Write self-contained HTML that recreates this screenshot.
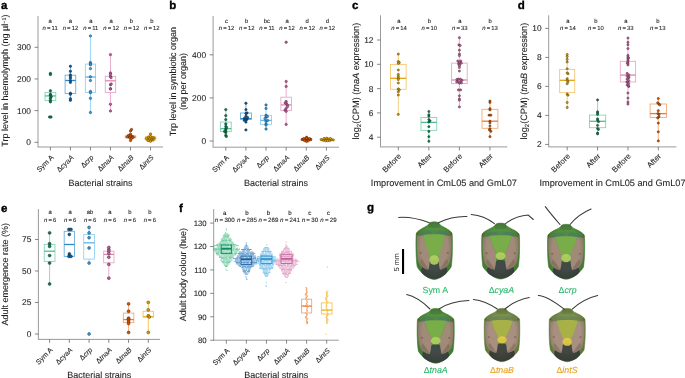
<!DOCTYPE html><html><head><meta charset="utf-8"><style>html,body{margin:0;padding:0;background:#fff;width:685px;height:378px;overflow:hidden;}svg{display:block;}</style></head><body><svg width="685" height="378" viewBox="0 0 685 378" style="will-change:transform" text-rendering="geometricPrecision" font-family='"Liberation Sans", sans-serif'>
<rect width="685" height="378" fill="#fff"/>
<text x="0.90" y="9.40" font-size="11.5" text-anchor="start" font-weight="bold" fill="#000" stroke="#000" stroke-width="0.35">a</text>
<text x="169.20" y="9.20" font-size="11.5" text-anchor="start" font-weight="bold" fill="#000" stroke="#000" stroke-width="0.35">b</text>
<text x="351.90" y="9.30" font-size="11.5" text-anchor="start" font-weight="bold" fill="#000" stroke="#000" stroke-width="0.35">c</text>
<text x="517.80" y="9.30" font-size="11.5" text-anchor="start" font-weight="bold" fill="#000" stroke="#000" stroke-width="0.35">d</text>
<text x="0.90" y="212.40" font-size="11.5" text-anchor="start" font-weight="bold" fill="#000" stroke="#000" stroke-width="0.35">e</text>
<text x="179.10" y="211.70" font-size="11.5" text-anchor="start" font-weight="bold" fill="#000" stroke="#000" stroke-width="0.35">f</text>
<text x="367.00" y="210.80" font-size="11.5" text-anchor="start" font-weight="bold" fill="#000" stroke="#000" stroke-width="0.35">g</text>
<line x1="38.0" y1="16" x2="38.0" y2="147.0" stroke="#9a9a9a" stroke-width="1"/>
<line x1="37.5" y1="147.0" x2="163" y2="147.0" stroke="#9a9a9a" stroke-width="1"/>
<line x1="34.5" y1="142.3" x2="38.0" y2="142.3" stroke="#555" stroke-width="0.7"/>
<text x="31.00" y="145.20" font-size="8.4" text-anchor="end" font-weight="normal" fill="#231f20" stroke="#231f20" stroke-width="0.1">0</text>
<line x1="34.5" y1="110.63000000000001" x2="38.0" y2="110.63000000000001" stroke="#555" stroke-width="0.7"/>
<text x="31.00" y="113.53" font-size="8.4" text-anchor="end" font-weight="normal" fill="#231f20" stroke="#231f20" stroke-width="0.1">100</text>
<line x1="34.5" y1="78.96000000000001" x2="38.0" y2="78.96000000000001" stroke="#555" stroke-width="0.7"/>
<text x="31.00" y="81.86" font-size="8.4" text-anchor="end" font-weight="normal" fill="#231f20" stroke="#231f20" stroke-width="0.1">200</text>
<line x1="34.5" y1="47.29000000000002" x2="38.0" y2="47.29000000000002" stroke="#555" stroke-width="0.7"/>
<text x="31.00" y="50.19" font-size="8.4" text-anchor="end" font-weight="normal" fill="#231f20" stroke="#231f20" stroke-width="0.1">300</text>
<line x1="50.4" y1="147.0" x2="50.4" y2="150.5" stroke="#555" stroke-width="0.7"/>
<line x1="70.42" y1="147.0" x2="70.42" y2="150.5" stroke="#555" stroke-width="0.7"/>
<line x1="90.44" y1="147.0" x2="90.44" y2="150.5" stroke="#555" stroke-width="0.7"/>
<line x1="110.46000000000001" y1="147.0" x2="110.46000000000001" y2="150.5" stroke="#555" stroke-width="0.7"/>
<line x1="130.48" y1="147.0" x2="130.48" y2="150.5" stroke="#555" stroke-width="0.7"/>
<line x1="150.5" y1="147.0" x2="150.5" y2="150.5" stroke="#555" stroke-width="0.7"/>
<text transform="translate(54.00,158.00) rotate(-45)" font-size="7.1" text-anchor="end" fill="#231f20" stroke="#231f20" stroke-width="0.1">Sym A</text>
<text transform="translate(74.02,158.00) rotate(-45)" font-size="7.1" text-anchor="end" fill="#231f20" stroke="#231f20" stroke-width="0.1">&#916;<tspan font-style="italic">cyaA</tspan></text>
<text transform="translate(94.04,158.00) rotate(-45)" font-size="7.1" text-anchor="end" fill="#231f20" stroke="#231f20" stroke-width="0.1">&#916;<tspan font-style="italic">crp</tspan></text>
<text transform="translate(114.06,158.00) rotate(-45)" font-size="7.1" text-anchor="end" fill="#231f20" stroke="#231f20" stroke-width="0.1">&#916;<tspan font-style="italic">tnaA</tspan></text>
<text transform="translate(134.08,158.00) rotate(-45)" font-size="7.1" text-anchor="end" fill="#231f20" stroke="#231f20" stroke-width="0.1">&#916;<tspan font-style="italic">tnaB</tspan></text>
<text transform="translate(154.10,158.00) rotate(-45)" font-size="7.1" text-anchor="end" fill="#231f20" stroke="#231f20" stroke-width="0.1">&#916;<tspan font-style="italic">intS</tspan></text>
<text x="100.50" y="186.20" font-size="9.0" text-anchor="middle" font-weight="normal" fill="#231f20" stroke="#231f20" stroke-width="0.1">Bacterial strains</text>
<text transform="translate(8.30,80.60) rotate(-90)" font-size="9.0" text-anchor="middle" fill="#231f20" stroke="#231f20" stroke-width="0.1">Trp level in haemolymph (ng &#181;l<tspan dy="-2.5" font-size="5.5">&#8722;1</tspan><tspan dy="2.5">)</tspan></text>
<text x="50.10" y="22.80" font-size="5.9" text-anchor="middle" font-weight="normal" fill="#231f20" stroke="#231f20" stroke-width="0.1">a</text>
<text x="50.10" y="30.00" font-size="5.9" text-anchor="middle" font-weight="normal" fill="#231f20" stroke="#231f20" stroke-width="0.1"><tspan font-style="italic">n</tspan>&#8201;=&#8201;11</text>
<text x="70.45" y="22.80" font-size="5.9" text-anchor="middle" font-weight="normal" fill="#231f20" stroke="#231f20" stroke-width="0.1">a</text>
<text x="70.45" y="30.00" font-size="5.9" text-anchor="middle" font-weight="normal" fill="#231f20" stroke="#231f20" stroke-width="0.1"><tspan font-style="italic">n</tspan>&#8201;=&#8201;12</text>
<text x="90.80" y="22.80" font-size="5.9" text-anchor="middle" font-weight="normal" fill="#231f20" stroke="#231f20" stroke-width="0.1">a</text>
<text x="90.80" y="30.00" font-size="5.9" text-anchor="middle" font-weight="normal" fill="#231f20" stroke="#231f20" stroke-width="0.1"><tspan font-style="italic">n</tspan>&#8201;=&#8201;11</text>
<text x="111.15" y="22.80" font-size="5.9" text-anchor="middle" font-weight="normal" fill="#231f20" stroke="#231f20" stroke-width="0.1">a</text>
<text x="111.15" y="30.00" font-size="5.9" text-anchor="middle" font-weight="normal" fill="#231f20" stroke="#231f20" stroke-width="0.1"><tspan font-style="italic">n</tspan>&#8201;=&#8201;12</text>
<text x="131.50" y="22.80" font-size="5.9" text-anchor="middle" font-weight="normal" fill="#231f20" stroke="#231f20" stroke-width="0.1">b</text>
<text x="131.50" y="30.00" font-size="5.9" text-anchor="middle" font-weight="normal" fill="#231f20" stroke="#231f20" stroke-width="0.1"><tspan font-style="italic">n</tspan>&#8201;=&#8201;12</text>
<text x="151.85" y="22.80" font-size="5.9" text-anchor="middle" font-weight="normal" fill="#231f20" stroke="#231f20" stroke-width="0.1">b</text>
<text x="151.85" y="30.00" font-size="5.9" text-anchor="middle" font-weight="normal" fill="#231f20" stroke="#231f20" stroke-width="0.1"><tspan font-style="italic">n</tspan>&#8201;=&#8201;12</text>
<line x1="50.4" y1="90.8" x2="50.4" y2="92.4" stroke="#86d5b4" stroke-width="0.9"/>
<line x1="50.4" y1="100.6" x2="50.4" y2="101.9" stroke="#86d5b4" stroke-width="0.9"/>
<rect x="45.00" y="92.4" width="10.8" height="8.20" fill="none" stroke="#86d5b4" stroke-width="0.9"/>
<line x1="45.00" y1="95.9" x2="55.80" y2="95.9" stroke="#4fbf8f" stroke-width="1.3"/>
<line x1="70.42" y1="66.2" x2="70.42" y2="75.2" stroke="#6aaedf" stroke-width="0.9"/>
<line x1="70.42" y1="93.5" x2="70.42" y2="100.3" stroke="#6aaedf" stroke-width="0.9"/>
<rect x="65.12" y="75.2" width="10.6" height="18.30" fill="none" stroke="#6aaedf" stroke-width="0.9"/>
<line x1="65.12" y1="80.5" x2="75.72" y2="80.5" stroke="#2f86c8" stroke-width="1.3"/>
<line x1="90.44" y1="35.9" x2="90.44" y2="64.1" stroke="#94d0f2" stroke-width="0.9"/>
<line x1="90.44" y1="92.4" x2="90.44" y2="112.5" stroke="#94d0f2" stroke-width="0.9"/>
<rect x="85.34" y="64.1" width="10.2" height="28.30" fill="none" stroke="#94d0f2" stroke-width="0.9"/>
<line x1="85.34" y1="77.0" x2="95.54" y2="77.0" stroke="#5cb4e8" stroke-width="1.3"/>
<line x1="110.46000000000001" y1="54.6" x2="110.46000000000001" y2="76.3" stroke="#e8a6cb" stroke-width="0.9"/>
<line x1="110.46000000000001" y1="92.4" x2="110.46000000000001" y2="111.0" stroke="#e8a6cb" stroke-width="0.9"/>
<rect x="105.26" y="76.3" width="10.4" height="16.10" fill="none" stroke="#e8a6cb" stroke-width="0.9"/>
<line x1="105.26" y1="80.8" x2="115.66" y2="80.8" stroke="#dd86b6" stroke-width="1.3"/>
<line x1="130.48" y1="134.0" x2="130.48" y2="135.8" stroke="#f4a878" stroke-width="0.9"/>
<line x1="130.48" y1="137.9" x2="130.48" y2="140.0" stroke="#f4a878" stroke-width="0.9"/>
<rect x="125.18" y="135.8" width="10.6" height="2.10" fill="none" stroke="#f4a878" stroke-width="0.9"/>
<line x1="125.18" y1="137.0" x2="135.78" y2="137.0" stroke="#ea7a30" stroke-width="1.3"/>
<line x1="150.5" y1="136.0" x2="150.5" y2="136.8" stroke="#f4c454" stroke-width="0.9"/>
<line x1="150.5" y1="140.0" x2="150.5" y2="141.0" stroke="#f4c454" stroke-width="0.9"/>
<rect x="145.20" y="136.8" width="10.6" height="3.20" fill="none" stroke="#f4c454" stroke-width="0.9"/>
<line x1="145.20" y1="138.6" x2="155.80" y2="138.6" stroke="#eeb020" stroke-width="1.3"/>
<circle cx="50.40" cy="73.40" r="1.2" fill="#0b7a4e" stroke="#0a3424" stroke-width="0.5"/>
<circle cx="50.40" cy="74.60" r="1.2" fill="#0b7a4e" stroke="#0a3424" stroke-width="0.5"/>
<circle cx="50.40" cy="90.80" r="1.2" fill="#0b7a4e" stroke="#0a3424" stroke-width="0.5"/>
<circle cx="50.40" cy="94.30" r="1.2" fill="#0b7a4e" stroke="#0a3424" stroke-width="0.5"/>
<circle cx="50.40" cy="95.40" r="1.2" fill="#0b7a4e" stroke="#0a3424" stroke-width="0.5"/>
<circle cx="51.20" cy="96.70" r="1.2" fill="#0b7a4e" stroke="#0a3424" stroke-width="0.5"/>
<circle cx="50.40" cy="98.30" r="1.2" fill="#0b7a4e" stroke="#0a3424" stroke-width="0.5"/>
<circle cx="50.40" cy="100.30" r="1.2" fill="#0b7a4e" stroke="#0a3424" stroke-width="0.5"/>
<circle cx="50.40" cy="101.90" r="1.2" fill="#0b7a4e" stroke="#0a3424" stroke-width="0.5"/>
<circle cx="49.60" cy="117.00" r="1.2" fill="#0b7a4e" stroke="#0a3424" stroke-width="0.5"/>
<circle cx="51.00" cy="117.00" r="1.2" fill="#0b7a4e" stroke="#0a3424" stroke-width="0.5"/>
<circle cx="70.42" cy="66.20" r="1.2" fill="#105b92" stroke="#0a2a45" stroke-width="0.5"/>
<circle cx="70.42" cy="71.30" r="1.2" fill="#105b92" stroke="#0a2a45" stroke-width="0.5"/>
<circle cx="70.42" cy="74.90" r="1.2" fill="#105b92" stroke="#0a2a45" stroke-width="0.5"/>
<circle cx="70.42" cy="76.80" r="1.2" fill="#105b92" stroke="#0a2a45" stroke-width="0.5"/>
<circle cx="70.42" cy="78.40" r="1.2" fill="#105b92" stroke="#0a2a45" stroke-width="0.5"/>
<circle cx="70.42" cy="80.80" r="1.2" fill="#105b92" stroke="#0a2a45" stroke-width="0.5"/>
<circle cx="70.42" cy="82.40" r="1.2" fill="#105b92" stroke="#0a2a45" stroke-width="0.5"/>
<circle cx="70.42" cy="93.20" r="1.2" fill="#105b92" stroke="#0a2a45" stroke-width="0.5"/>
<circle cx="70.42" cy="94.30" r="1.2" fill="#105b92" stroke="#0a2a45" stroke-width="0.5"/>
<circle cx="70.42" cy="98.70" r="1.2" fill="#105b92" stroke="#0a2a45" stroke-width="0.5"/>
<circle cx="70.42" cy="100.30" r="1.2" fill="#105b92" stroke="#0a2a45" stroke-width="0.5"/>
<circle cx="90.44" cy="35.90" r="1.2" fill="#3a9ad8" stroke="#17425f" stroke-width="0.5"/>
<circle cx="90.44" cy="62.50" r="1.2" fill="#3a9ad8" stroke="#17425f" stroke-width="0.5"/>
<circle cx="90.44" cy="63.70" r="1.2" fill="#3a9ad8" stroke="#17425f" stroke-width="0.5"/>
<circle cx="90.44" cy="64.90" r="1.2" fill="#3a9ad8" stroke="#17425f" stroke-width="0.5"/>
<circle cx="90.44" cy="68.60" r="1.2" fill="#3a9ad8" stroke="#17425f" stroke-width="0.5"/>
<circle cx="90.44" cy="76.80" r="1.2" fill="#3a9ad8" stroke="#17425f" stroke-width="0.5"/>
<circle cx="90.44" cy="80.50" r="1.2" fill="#3a9ad8" stroke="#17425f" stroke-width="0.5"/>
<circle cx="90.44" cy="91.40" r="1.2" fill="#3a9ad8" stroke="#17425f" stroke-width="0.5"/>
<circle cx="90.44" cy="92.70" r="1.2" fill="#3a9ad8" stroke="#17425f" stroke-width="0.5"/>
<circle cx="90.44" cy="98.30" r="1.2" fill="#3a9ad8" stroke="#17425f" stroke-width="0.5"/>
<circle cx="90.44" cy="112.50" r="1.2" fill="#3a9ad8" stroke="#17425f" stroke-width="0.5"/>
<circle cx="110.46" cy="54.60" r="1.2" fill="#b8649a" stroke="#58203f" stroke-width="0.5"/>
<circle cx="110.46" cy="72.90" r="1.2" fill="#b8649a" stroke="#58203f" stroke-width="0.5"/>
<circle cx="110.46" cy="74.40" r="1.2" fill="#b8649a" stroke="#58203f" stroke-width="0.5"/>
<circle cx="110.46" cy="76.50" r="1.2" fill="#b8649a" stroke="#58203f" stroke-width="0.5"/>
<circle cx="111.00" cy="77.60" r="1.2" fill="#b8649a" stroke="#58203f" stroke-width="0.5"/>
<circle cx="110.46" cy="84.80" r="1.2" fill="#b8649a" stroke="#58203f" stroke-width="0.5"/>
<circle cx="111.20" cy="84.00" r="1.2" fill="#b8649a" stroke="#58203f" stroke-width="0.5"/>
<circle cx="110.46" cy="88.70" r="1.2" fill="#b8649a" stroke="#58203f" stroke-width="0.5"/>
<circle cx="110.46" cy="89.00" r="1.2" fill="#b8649a" stroke="#58203f" stroke-width="0.5"/>
<circle cx="110.46" cy="104.30" r="1.2" fill="#b8649a" stroke="#58203f" stroke-width="0.5"/>
<circle cx="110.46" cy="111.00" r="1.2" fill="#b8649a" stroke="#58203f" stroke-width="0.5"/>
<circle cx="131.50" cy="129.50" r="1.2" fill="#d05a00" stroke="#4a1a00" stroke-width="0.5"/>
<circle cx="130.50" cy="131.00" r="1.2" fill="#d05a00" stroke="#4a1a00" stroke-width="0.5"/>
<circle cx="128.50" cy="135.50" r="1.2" fill="#d05a00" stroke="#4a1a00" stroke-width="0.5"/>
<circle cx="130.50" cy="134.20" r="1.2" fill="#d05a00" stroke="#4a1a00" stroke-width="0.5"/>
<circle cx="132.50" cy="136.50" r="1.2" fill="#d05a00" stroke="#4a1a00" stroke-width="0.5"/>
<circle cx="129.50" cy="137.50" r="1.2" fill="#d05a00" stroke="#4a1a00" stroke-width="0.5"/>
<circle cx="131.50" cy="138.50" r="1.2" fill="#d05a00" stroke="#4a1a00" stroke-width="0.5"/>
<circle cx="130.50" cy="140.50" r="1.2" fill="#d05a00" stroke="#4a1a00" stroke-width="0.5"/>
<circle cx="127.50" cy="136.80" r="1.2" fill="#d05a00" stroke="#4a1a00" stroke-width="0.5"/>
<circle cx="133.00" cy="137.20" r="1.2" fill="#d05a00" stroke="#4a1a00" stroke-width="0.5"/>
<circle cx="130.60" cy="136.00" r="1.2" fill="#d05a00" stroke="#4a1a00" stroke-width="0.5"/>
<circle cx="150.50" cy="134.00" r="1.2" fill="#e0a000" stroke="#4f3a00" stroke-width="0.5"/>
<circle cx="148.50" cy="137.00" r="1.2" fill="#e0a000" stroke="#4f3a00" stroke-width="0.5"/>
<circle cx="150.50" cy="136.50" r="1.2" fill="#e0a000" stroke="#4f3a00" stroke-width="0.5"/>
<circle cx="152.50" cy="137.50" r="1.2" fill="#e0a000" stroke="#4f3a00" stroke-width="0.5"/>
<circle cx="149.50" cy="139.00" r="1.2" fill="#e0a000" stroke="#4f3a00" stroke-width="0.5"/>
<circle cx="151.50" cy="139.50" r="1.2" fill="#e0a000" stroke="#4f3a00" stroke-width="0.5"/>
<circle cx="148.00" cy="140.50" r="1.2" fill="#e0a000" stroke="#4f3a00" stroke-width="0.5"/>
<circle cx="150.50" cy="141.20" r="1.2" fill="#e0a000" stroke="#4f3a00" stroke-width="0.5"/>
<circle cx="153.00" cy="140.00" r="1.2" fill="#e0a000" stroke="#4f3a00" stroke-width="0.5"/>
<circle cx="146.50" cy="138.50" r="1.2" fill="#e0a000" stroke="#4f3a00" stroke-width="0.5"/>
<circle cx="154.00" cy="138.00" r="1.2" fill="#e0a000" stroke="#4f3a00" stroke-width="0.5"/>
<line x1="213.1" y1="16" x2="213.1" y2="147.2" stroke="#9a9a9a" stroke-width="1"/>
<line x1="212.6" y1="147.2" x2="339" y2="147.2" stroke="#9a9a9a" stroke-width="1"/>
<line x1="209.6" y1="141.0" x2="213.1" y2="141.0" stroke="#555" stroke-width="0.7"/>
<text x="206.10" y="143.90" font-size="8.4" text-anchor="end" font-weight="normal" fill="#231f20" stroke="#231f20" stroke-width="0.1">0</text>
<line x1="209.6" y1="97.9" x2="213.1" y2="97.9" stroke="#555" stroke-width="0.7"/>
<text x="206.10" y="100.80" font-size="8.4" text-anchor="end" font-weight="normal" fill="#231f20" stroke="#231f20" stroke-width="0.1">200</text>
<line x1="209.6" y1="54.8" x2="213.1" y2="54.8" stroke="#555" stroke-width="0.7"/>
<text x="206.10" y="57.70" font-size="8.4" text-anchor="end" font-weight="normal" fill="#231f20" stroke="#231f20" stroke-width="0.1">400</text>
<line x1="225.8" y1="147.2" x2="225.8" y2="150.7" stroke="#555" stroke-width="0.7"/>
<line x1="245.92000000000002" y1="147.2" x2="245.92000000000002" y2="150.7" stroke="#555" stroke-width="0.7"/>
<line x1="266.04" y1="147.2" x2="266.04" y2="150.7" stroke="#555" stroke-width="0.7"/>
<line x1="286.16" y1="147.2" x2="286.16" y2="150.7" stroke="#555" stroke-width="0.7"/>
<line x1="306.28000000000003" y1="147.2" x2="306.28000000000003" y2="150.7" stroke="#555" stroke-width="0.7"/>
<line x1="326.40000000000003" y1="147.2" x2="326.40000000000003" y2="150.7" stroke="#555" stroke-width="0.7"/>
<text transform="translate(229.40,158.20) rotate(-45)" font-size="7.1" text-anchor="end" fill="#231f20" stroke="#231f20" stroke-width="0.1">Sym A</text>
<text transform="translate(249.52,158.20) rotate(-45)" font-size="7.1" text-anchor="end" fill="#231f20" stroke="#231f20" stroke-width="0.1">&#916;<tspan font-style="italic">cyaA</tspan></text>
<text transform="translate(269.64,158.20) rotate(-45)" font-size="7.1" text-anchor="end" fill="#231f20" stroke="#231f20" stroke-width="0.1">&#916;<tspan font-style="italic">crp</tspan></text>
<text transform="translate(289.76,158.20) rotate(-45)" font-size="7.1" text-anchor="end" fill="#231f20" stroke="#231f20" stroke-width="0.1">&#916;<tspan font-style="italic">tnaA</tspan></text>
<text transform="translate(309.88,158.20) rotate(-45)" font-size="7.1" text-anchor="end" fill="#231f20" stroke="#231f20" stroke-width="0.1">&#916;<tspan font-style="italic">tnaB</tspan></text>
<text transform="translate(330.00,158.20) rotate(-45)" font-size="7.1" text-anchor="end" fill="#231f20" stroke="#231f20" stroke-width="0.1">&#916;<tspan font-style="italic">intS</tspan></text>
<text x="276.05" y="186.20" font-size="9.0" text-anchor="middle" font-weight="normal" fill="#231f20" stroke="#231f20" stroke-width="0.1">Bacterial strains</text>
<text transform="translate(176.30,81.60) rotate(-90)" font-size="9.0" text-anchor="middle" fill="#231f20" stroke="#231f20" stroke-width="0.1">Trp level in symbiotic organ</text>
<text transform="translate(185.90,81.60) rotate(-90)" font-size="9.0" text-anchor="middle" fill="#231f20" stroke="#231f20" stroke-width="0.1">(ng per organ)</text>
<text x="226.60" y="22.90" font-size="5.9" text-anchor="middle" font-weight="normal" fill="#231f20" stroke="#231f20" stroke-width="0.1">c</text>
<text x="226.60" y="30.30" font-size="5.9" text-anchor="middle" font-weight="normal" fill="#231f20" stroke="#231f20" stroke-width="0.1"><tspan font-style="italic">n</tspan>&#8201;=&#8201;12</text>
<text x="246.75" y="22.90" font-size="5.9" text-anchor="middle" font-weight="normal" fill="#231f20" stroke="#231f20" stroke-width="0.1">b</text>
<text x="246.75" y="30.30" font-size="5.9" text-anchor="middle" font-weight="normal" fill="#231f20" stroke="#231f20" stroke-width="0.1"><tspan font-style="italic">n</tspan>&#8201;=&#8201;12</text>
<text x="266.90" y="22.90" font-size="5.9" text-anchor="middle" font-weight="normal" fill="#231f20" stroke="#231f20" stroke-width="0.1">bc</text>
<text x="266.90" y="30.30" font-size="5.9" text-anchor="middle" font-weight="normal" fill="#231f20" stroke="#231f20" stroke-width="0.1"><tspan font-style="italic">n</tspan>&#8201;=&#8201;11</text>
<text x="287.05" y="22.90" font-size="5.9" text-anchor="middle" font-weight="normal" fill="#231f20" stroke="#231f20" stroke-width="0.1">a</text>
<text x="287.05" y="30.30" font-size="5.9" text-anchor="middle" font-weight="normal" fill="#231f20" stroke="#231f20" stroke-width="0.1"><tspan font-style="italic">n</tspan>&#8201;=&#8201;12</text>
<text x="307.20" y="22.90" font-size="5.9" text-anchor="middle" font-weight="normal" fill="#231f20" stroke="#231f20" stroke-width="0.1">d</text>
<text x="307.20" y="30.30" font-size="5.9" text-anchor="middle" font-weight="normal" fill="#231f20" stroke="#231f20" stroke-width="0.1"><tspan font-style="italic">n</tspan>&#8201;=&#8201;12</text>
<text x="327.35" y="22.90" font-size="5.9" text-anchor="middle" font-weight="normal" fill="#231f20" stroke="#231f20" stroke-width="0.1">d</text>
<text x="327.35" y="30.30" font-size="5.9" text-anchor="middle" font-weight="normal" fill="#231f20" stroke="#231f20" stroke-width="0.1"><tspan font-style="italic">n</tspan>&#8201;=&#8201;12</text>
<line x1="225.8" y1="109.6" x2="225.8" y2="122.1" stroke="#86d5b4" stroke-width="0.9"/>
<line x1="225.8" y1="131.6" x2="225.8" y2="136.4" stroke="#86d5b4" stroke-width="0.9"/>
<rect x="220.35" y="122.1" width="10.9" height="9.50" fill="none" stroke="#86d5b4" stroke-width="0.9"/>
<line x1="220.35" y1="128.7" x2="231.25" y2="128.7" stroke="#4fbf8f" stroke-width="1.3"/>
<line x1="245.92000000000002" y1="103.2" x2="245.92000000000002" y2="113.0" stroke="#6aaedf" stroke-width="0.9"/>
<line x1="245.92000000000002" y1="119.2" x2="245.92000000000002" y2="122.1" stroke="#6aaedf" stroke-width="0.9"/>
<rect x="240.42" y="113.0" width="11.0" height="6.20" fill="none" stroke="#6aaedf" stroke-width="0.9"/>
<line x1="240.42" y1="118.7" x2="251.42" y2="118.7" stroke="#2f86c8" stroke-width="1.3"/>
<line x1="266.04" y1="104.9" x2="266.04" y2="115.3" stroke="#94d0f2" stroke-width="0.9"/>
<line x1="266.04" y1="124.4" x2="266.04" y2="129.0" stroke="#94d0f2" stroke-width="0.9"/>
<rect x="260.54" y="115.3" width="11.0" height="9.10" fill="none" stroke="#94d0f2" stroke-width="0.9"/>
<line x1="260.54" y1="120.4" x2="271.54" y2="120.4" stroke="#5cb4e8" stroke-width="1.3"/>
<line x1="286.16" y1="81.4" x2="286.16" y2="97.2" stroke="#e8a6cb" stroke-width="0.9"/>
<line x1="286.16" y1="110.6" x2="286.16" y2="124.4" stroke="#e8a6cb" stroke-width="0.9"/>
<rect x="280.91" y="97.2" width="10.5" height="13.40" fill="none" stroke="#e8a6cb" stroke-width="0.9"/>
<line x1="280.91" y1="104.9" x2="291.41" y2="104.9" stroke="#dd86b6" stroke-width="1.3"/>
<line x1="306.28000000000003" y1="137.5" x2="306.28000000000003" y2="139.0" stroke="#f4a878" stroke-width="0.9"/>
<line x1="306.28000000000003" y1="140.3" x2="306.28000000000003" y2="141.5" stroke="#f4a878" stroke-width="0.9"/>
<rect x="301.28" y="139.0" width="10.0" height="1.30" fill="none" stroke="#f4a878" stroke-width="0.9"/>
<line x1="301.28" y1="139.6" x2="311.28" y2="139.6" stroke="#ea7a30" stroke-width="1.3"/>
<line x1="326.40000000000003" y1="138.5" x2="326.40000000000003" y2="139.2" stroke="#f4c454" stroke-width="0.9"/>
<line x1="326.40000000000003" y1="140.5" x2="326.40000000000003" y2="141.5" stroke="#f4c454" stroke-width="0.9"/>
<rect x="321.40" y="139.2" width="10.0" height="1.30" fill="none" stroke="#f4c454" stroke-width="0.9"/>
<line x1="321.40" y1="139.8" x2="331.40" y2="139.8" stroke="#eeb020" stroke-width="1.3"/>
<circle cx="225.80" cy="109.60" r="1.2" fill="#0b7a4e" stroke="#0a3424" stroke-width="0.5"/>
<circle cx="225.80" cy="115.60" r="1.2" fill="#0b7a4e" stroke="#0a3424" stroke-width="0.5"/>
<circle cx="225.80" cy="119.60" r="1.2" fill="#0b7a4e" stroke="#0a3424" stroke-width="0.5"/>
<circle cx="225.80" cy="123.90" r="1.2" fill="#0b7a4e" stroke="#0a3424" stroke-width="0.5"/>
<circle cx="225.80" cy="126.40" r="1.2" fill="#0b7a4e" stroke="#0a3424" stroke-width="0.5"/>
<circle cx="225.80" cy="129.00" r="1.2" fill="#0b7a4e" stroke="#0a3424" stroke-width="0.5"/>
<circle cx="225.80" cy="130.70" r="1.2" fill="#0b7a4e" stroke="#0a3424" stroke-width="0.5"/>
<circle cx="225.80" cy="132.50" r="1.2" fill="#0b7a4e" stroke="#0a3424" stroke-width="0.5"/>
<circle cx="225.80" cy="135.40" r="1.2" fill="#0b7a4e" stroke="#0a3424" stroke-width="0.5"/>
<circle cx="226.30" cy="136.40" r="1.2" fill="#0b7a4e" stroke="#0a3424" stroke-width="0.5"/>
<circle cx="224.60" cy="131.50" r="1.2" fill="#0b7a4e" stroke="#0a3424" stroke-width="0.5"/>
<circle cx="226.50" cy="127.50" r="1.2" fill="#0b7a4e" stroke="#0a3424" stroke-width="0.5"/>
<circle cx="245.92" cy="103.20" r="1.2" fill="#105b92" stroke="#0a2a45" stroke-width="0.5"/>
<circle cx="245.92" cy="109.60" r="1.2" fill="#105b92" stroke="#0a2a45" stroke-width="0.5"/>
<circle cx="245.92" cy="113.50" r="1.2" fill="#105b92" stroke="#0a2a45" stroke-width="0.5"/>
<circle cx="245.92" cy="116.10" r="1.2" fill="#105b92" stroke="#0a2a45" stroke-width="0.5"/>
<circle cx="244.50" cy="118.20" r="1.2" fill="#105b92" stroke="#0a2a45" stroke-width="0.5"/>
<circle cx="246.90" cy="119.20" r="1.2" fill="#105b92" stroke="#0a2a45" stroke-width="0.5"/>
<circle cx="245.92" cy="119.90" r="1.2" fill="#105b92" stroke="#0a2a45" stroke-width="0.5"/>
<circle cx="247.50" cy="117.50" r="1.2" fill="#105b92" stroke="#0a2a45" stroke-width="0.5"/>
<circle cx="245.92" cy="122.10" r="1.2" fill="#105b92" stroke="#0a2a45" stroke-width="0.5"/>
<circle cx="245.92" cy="129.90" r="1.2" fill="#105b92" stroke="#0a2a45" stroke-width="0.5"/>
<circle cx="244.30" cy="120.30" r="1.2" fill="#105b92" stroke="#0a2a45" stroke-width="0.5"/>
<circle cx="247.00" cy="113.00" r="1.2" fill="#105b92" stroke="#0a2a45" stroke-width="0.5"/>
<circle cx="266.04" cy="104.90" r="1.2" fill="#3a9ad8" stroke="#17425f" stroke-width="0.5"/>
<circle cx="266.04" cy="108.40" r="1.2" fill="#3a9ad8" stroke="#17425f" stroke-width="0.5"/>
<circle cx="266.04" cy="115.30" r="1.2" fill="#3a9ad8" stroke="#17425f" stroke-width="0.5"/>
<circle cx="266.04" cy="117.00" r="1.2" fill="#3a9ad8" stroke="#17425f" stroke-width="0.5"/>
<circle cx="266.04" cy="121.30" r="1.2" fill="#3a9ad8" stroke="#17425f" stroke-width="0.5"/>
<circle cx="266.04" cy="123.90" r="1.2" fill="#3a9ad8" stroke="#17425f" stroke-width="0.5"/>
<circle cx="266.04" cy="125.00" r="1.2" fill="#3a9ad8" stroke="#17425f" stroke-width="0.5"/>
<circle cx="266.04" cy="129.00" r="1.2" fill="#3a9ad8" stroke="#17425f" stroke-width="0.5"/>
<circle cx="267.50" cy="120.50" r="1.2" fill="#3a9ad8" stroke="#17425f" stroke-width="0.5"/>
<circle cx="265.00" cy="118.60" r="1.2" fill="#3a9ad8" stroke="#17425f" stroke-width="0.5"/>
<circle cx="267.40" cy="116.50" r="1.2" fill="#3a9ad8" stroke="#17425f" stroke-width="0.5"/>
<circle cx="286.16" cy="42.20" r="1.2" fill="#b8649a" stroke="#58203f" stroke-width="0.5"/>
<circle cx="286.16" cy="81.40" r="1.2" fill="#b8649a" stroke="#58203f" stroke-width="0.5"/>
<circle cx="286.16" cy="86.40" r="1.2" fill="#b8649a" stroke="#58203f" stroke-width="0.5"/>
<circle cx="286.16" cy="101.50" r="1.2" fill="#b8649a" stroke="#58203f" stroke-width="0.5"/>
<circle cx="286.16" cy="103.20" r="1.2" fill="#b8649a" stroke="#58203f" stroke-width="0.5"/>
<circle cx="287.30" cy="104.90" r="1.2" fill="#b8649a" stroke="#58203f" stroke-width="0.5"/>
<circle cx="286.16" cy="108.40" r="1.2" fill="#b8649a" stroke="#58203f" stroke-width="0.5"/>
<circle cx="285.00" cy="110.10" r="1.2" fill="#b8649a" stroke="#58203f" stroke-width="0.5"/>
<circle cx="286.16" cy="111.30" r="1.2" fill="#b8649a" stroke="#58203f" stroke-width="0.5"/>
<circle cx="286.16" cy="124.40" r="1.2" fill="#b8649a" stroke="#58203f" stroke-width="0.5"/>
<circle cx="287.50" cy="106.50" r="1.2" fill="#b8649a" stroke="#58203f" stroke-width="0.5"/>
<circle cx="285.20" cy="103.00" r="1.2" fill="#b8649a" stroke="#58203f" stroke-width="0.5"/>
<circle cx="302.20" cy="139.50" r="1.2" fill="#d05a00" stroke="#4a1a00" stroke-width="0.5"/>
<circle cx="304.00" cy="139.00" r="1.2" fill="#d05a00" stroke="#4a1a00" stroke-width="0.5"/>
<circle cx="306.60" cy="137.30" r="1.2" fill="#d05a00" stroke="#4a1a00" stroke-width="0.5"/>
<circle cx="306.60" cy="139.30" r="1.2" fill="#d05a00" stroke="#4a1a00" stroke-width="0.5"/>
<circle cx="306.60" cy="141.40" r="1.2" fill="#d05a00" stroke="#4a1a00" stroke-width="0.5"/>
<circle cx="308.80" cy="139.00" r="1.2" fill="#d05a00" stroke="#4a1a00" stroke-width="0.5"/>
<circle cx="310.80" cy="139.50" r="1.2" fill="#d05a00" stroke="#4a1a00" stroke-width="0.5"/>
<circle cx="304.60" cy="140.50" r="1.2" fill="#d05a00" stroke="#4a1a00" stroke-width="0.5"/>
<circle cx="308.40" cy="140.60" r="1.2" fill="#d05a00" stroke="#4a1a00" stroke-width="0.5"/>
<circle cx="306.60" cy="138.30" r="1.2" fill="#d05a00" stroke="#4a1a00" stroke-width="0.5"/>
<circle cx="303.80" cy="138.70" r="1.2" fill="#d05a00" stroke="#4a1a00" stroke-width="0.5"/>
<circle cx="309.60" cy="138.70" r="1.2" fill="#d05a00" stroke="#4a1a00" stroke-width="0.5"/>
<circle cx="321.20" cy="139.60" r="1.2" fill="#e0a000" stroke="#4f3a00" stroke-width="0.5"/>
<circle cx="323.20" cy="140.20" r="1.2" fill="#e0a000" stroke="#4f3a00" stroke-width="0.5"/>
<circle cx="325.00" cy="139.00" r="1.2" fill="#e0a000" stroke="#4f3a00" stroke-width="0.5"/>
<circle cx="326.80" cy="138.30" r="1.2" fill="#e0a000" stroke="#4f3a00" stroke-width="0.5"/>
<circle cx="328.50" cy="139.20" r="1.2" fill="#e0a000" stroke="#4f3a00" stroke-width="0.5"/>
<circle cx="329.50" cy="140.60" r="1.2" fill="#e0a000" stroke="#4f3a00" stroke-width="0.5"/>
<circle cx="331.30" cy="139.60" r="1.2" fill="#e0a000" stroke="#4f3a00" stroke-width="0.5"/>
<circle cx="333.20" cy="139.90" r="1.2" fill="#e0a000" stroke="#4f3a00" stroke-width="0.5"/>
<circle cx="325.60" cy="140.80" r="1.2" fill="#e0a000" stroke="#4f3a00" stroke-width="0.5"/>
<circle cx="327.60" cy="140.60" r="1.2" fill="#e0a000" stroke="#4f3a00" stroke-width="0.5"/>
<circle cx="324.00" cy="138.60" r="1.2" fill="#e0a000" stroke="#4f3a00" stroke-width="0.5"/>
<circle cx="330.30" cy="138.60" r="1.2" fill="#e0a000" stroke="#4f3a00" stroke-width="0.5"/>
<line x1="380.5" y1="15.3" x2="380.5" y2="146.9" stroke="#9a9a9a" stroke-width="1"/>
<line x1="380.0" y1="146.9" x2="507.3" y2="146.9" stroke="#9a9a9a" stroke-width="1"/>
<line x1="377.0" y1="137.2" x2="380.5" y2="137.2" stroke="#555" stroke-width="0.7"/>
<text x="373.50" y="140.10" font-size="8.4" text-anchor="end" font-weight="normal" fill="#231f20" stroke="#231f20" stroke-width="0.1">4</text>
<line x1="377.0" y1="112.89999999999999" x2="380.5" y2="112.89999999999999" stroke="#555" stroke-width="0.7"/>
<text x="373.50" y="115.80" font-size="8.4" text-anchor="end" font-weight="normal" fill="#231f20" stroke="#231f20" stroke-width="0.1">6</text>
<line x1="377.0" y1="88.6" x2="380.5" y2="88.6" stroke="#555" stroke-width="0.7"/>
<text x="373.50" y="91.50" font-size="8.4" text-anchor="end" font-weight="normal" fill="#231f20" stroke="#231f20" stroke-width="0.1">8</text>
<line x1="377.0" y1="64.29999999999998" x2="380.5" y2="64.29999999999998" stroke="#555" stroke-width="0.7"/>
<text x="373.50" y="67.20" font-size="8.4" text-anchor="end" font-weight="normal" fill="#231f20" stroke="#231f20" stroke-width="0.1">10</text>
<line x1="377.0" y1="39.999999999999986" x2="380.5" y2="39.999999999999986" stroke="#555" stroke-width="0.7"/>
<text x="373.50" y="42.90" font-size="8.4" text-anchor="end" font-weight="normal" fill="#231f20" stroke="#231f20" stroke-width="0.1">12</text>
<line x1="398.3" y1="146.9" x2="398.3" y2="150.4" stroke="#555" stroke-width="0.7"/>
<line x1="428.85" y1="146.9" x2="428.85" y2="150.4" stroke="#555" stroke-width="0.7"/>
<line x1="459.40000000000003" y1="146.9" x2="459.40000000000003" y2="150.4" stroke="#555" stroke-width="0.7"/>
<line x1="489.95000000000005" y1="146.9" x2="489.95000000000005" y2="150.4" stroke="#555" stroke-width="0.7"/>
<text transform="translate(401.70,156.70) rotate(-45)" font-size="7.8" text-anchor="end" fill="#231f20" stroke="#231f20" stroke-width="0.1">Before</text>
<text transform="translate(432.25,156.70) rotate(-45)" font-size="7.8" text-anchor="end" fill="#231f20" stroke="#231f20" stroke-width="0.1">After</text>
<text transform="translate(462.80,156.70) rotate(-45)" font-size="7.8" text-anchor="end" fill="#231f20" stroke="#231f20" stroke-width="0.1">Before</text>
<text transform="translate(493.35,156.70) rotate(-45)" font-size="7.8" text-anchor="end" fill="#231f20" stroke="#231f20" stroke-width="0.1">After</text>
<text x="443.90" y="186.20" font-size="9.2" text-anchor="middle" font-weight="normal" fill="#231f20" stroke="#231f20" stroke-width="0.1">Improvement in CmL05 and GmL07</text>
<text transform="translate(359.00,81.10) rotate(-90)" font-size="9.2" text-anchor="middle" fill="#231f20" stroke="#231f20" stroke-width="0.1">log<tspan dy="2" font-size="6">2</tspan><tspan dy="-2">(CPM) (</tspan><tspan font-style="italic">tnaA</tspan> expression)</text>
<text x="399.00" y="22.90" font-size="5.9" text-anchor="middle" font-weight="normal" fill="#231f20" stroke="#231f20" stroke-width="0.1">a</text>
<text x="399.00" y="30.30" font-size="5.9" text-anchor="middle" font-weight="normal" fill="#231f20" stroke="#231f20" stroke-width="0.1"><tspan font-style="italic">n</tspan>&#8201;=&#8201;14</text>
<text x="429.30" y="22.90" font-size="5.9" text-anchor="middle" font-weight="normal" fill="#231f20" stroke="#231f20" stroke-width="0.1">b</text>
<text x="429.30" y="30.30" font-size="5.9" text-anchor="middle" font-weight="normal" fill="#231f20" stroke="#231f20" stroke-width="0.1"><tspan font-style="italic">n</tspan>&#8201;=&#8201;10</text>
<text x="459.80" y="22.90" font-size="5.9" text-anchor="middle" font-weight="normal" fill="#231f20" stroke="#231f20" stroke-width="0.1">a</text>
<text x="459.80" y="30.30" font-size="5.9" text-anchor="middle" font-weight="normal" fill="#231f20" stroke="#231f20" stroke-width="0.1"><tspan font-style="italic">n</tspan>&#8201;=&#8201;33</text>
<text x="490.10" y="22.90" font-size="5.9" text-anchor="middle" font-weight="normal" fill="#231f20" stroke="#231f20" stroke-width="0.1">b</text>
<text x="490.10" y="30.30" font-size="5.9" text-anchor="middle" font-weight="normal" fill="#231f20" stroke="#231f20" stroke-width="0.1"><tspan font-style="italic">n</tspan>&#8201;=&#8201;13</text>
<line x1="398.3" y1="54.1" x2="398.3" y2="64.4" stroke="#f5c870" stroke-width="0.9"/>
<line x1="398.3" y1="89.3" x2="398.3" y2="114.4" stroke="#f5c870" stroke-width="0.9"/>
<rect x="390.45" y="64.4" width="15.7" height="24.90" fill="none" stroke="#f5c870" stroke-width="0.9"/>
<line x1="390.45" y1="78.3" x2="406.15" y2="78.3" stroke="#e3a415" stroke-width="1.3"/>
<line x1="428.85" y1="111.5" x2="428.85" y2="117.5" stroke="#86d5b4" stroke-width="0.9"/>
<line x1="428.85" y1="130.4" x2="428.85" y2="141.3" stroke="#86d5b4" stroke-width="0.9"/>
<rect x="420.95" y="117.5" width="15.8" height="12.90" fill="none" stroke="#86d5b4" stroke-width="0.9"/>
<line x1="420.95" y1="122.4" x2="436.75" y2="122.4" stroke="#4fbf8f" stroke-width="1.3"/>
<line x1="459.40000000000003" y1="37.7" x2="459.40000000000003" y2="63.1" stroke="#e8a6cb" stroke-width="0.9"/>
<line x1="459.40000000000003" y1="83.6" x2="459.40000000000003" y2="106.9" stroke="#e8a6cb" stroke-width="0.9"/>
<rect x="451.60" y="63.1" width="15.6" height="20.50" fill="none" stroke="#e8a6cb" stroke-width="0.9"/>
<line x1="451.60" y1="80.0" x2="467.20" y2="80.0" stroke="#dd86b6" stroke-width="1.3"/>
<line x1="489.95000000000005" y1="101.0" x2="489.95000000000005" y2="109.3" stroke="#f4a878" stroke-width="0.9"/>
<line x1="489.95000000000005" y1="128.3" x2="489.95000000000005" y2="136.7" stroke="#f4a878" stroke-width="0.9"/>
<rect x="482.00" y="109.3" width="15.9" height="19.00" fill="none" stroke="#f4a878" stroke-width="0.9"/>
<line x1="482.00" y1="121.2" x2="497.90" y2="121.2" stroke="#ea7a30" stroke-width="1.3"/>
<circle cx="398.30" cy="54.10" r="1.1" fill="#d09a12" stroke="#4f3a00" stroke-width="0.5"/>
<circle cx="398.30" cy="61.50" r="1.1" fill="#d09a12" stroke="#4f3a00" stroke-width="0.5"/>
<circle cx="399.30" cy="62.60" r="1.1" fill="#d09a12" stroke="#4f3a00" stroke-width="0.5"/>
<circle cx="398.30" cy="63.30" r="1.1" fill="#d09a12" stroke="#4f3a00" stroke-width="0.5"/>
<circle cx="398.30" cy="70.00" r="1.1" fill="#d09a12" stroke="#4f3a00" stroke-width="0.5"/>
<circle cx="398.30" cy="74.40" r="1.1" fill="#d09a12" stroke="#4f3a00" stroke-width="0.5"/>
<circle cx="398.30" cy="76.30" r="1.1" fill="#d09a12" stroke="#4f3a00" stroke-width="0.5"/>
<circle cx="398.30" cy="78.10" r="1.1" fill="#d09a12" stroke="#4f3a00" stroke-width="0.5"/>
<circle cx="398.30" cy="79.60" r="1.1" fill="#d09a12" stroke="#4f3a00" stroke-width="0.5"/>
<circle cx="398.30" cy="83.00" r="1.1" fill="#d09a12" stroke="#4f3a00" stroke-width="0.5"/>
<circle cx="398.30" cy="88.90" r="1.1" fill="#d09a12" stroke="#4f3a00" stroke-width="0.5"/>
<circle cx="399.30" cy="89.80" r="1.1" fill="#d09a12" stroke="#4f3a00" stroke-width="0.5"/>
<circle cx="398.30" cy="91.70" r="1.1" fill="#d09a12" stroke="#4f3a00" stroke-width="0.5"/>
<circle cx="398.30" cy="95.00" r="1.1" fill="#d09a12" stroke="#4f3a00" stroke-width="0.5"/>
<circle cx="398.30" cy="114.40" r="1.1" fill="#d09a12" stroke="#4f3a00" stroke-width="0.5"/>
<circle cx="428.85" cy="111.50" r="1.1" fill="#0b7a4e" stroke="#0a3424" stroke-width="0.5"/>
<circle cx="428.85" cy="114.80" r="1.1" fill="#0b7a4e" stroke="#0a3424" stroke-width="0.5"/>
<circle cx="428.85" cy="116.20" r="1.1" fill="#0b7a4e" stroke="#0a3424" stroke-width="0.5"/>
<circle cx="428.85" cy="119.50" r="1.1" fill="#0b7a4e" stroke="#0a3424" stroke-width="0.5"/>
<circle cx="430.00" cy="120.80" r="1.1" fill="#0b7a4e" stroke="#0a3424" stroke-width="0.5"/>
<circle cx="428.85" cy="122.10" r="1.1" fill="#0b7a4e" stroke="#0a3424" stroke-width="0.5"/>
<circle cx="428.85" cy="126.70" r="1.1" fill="#0b7a4e" stroke="#0a3424" stroke-width="0.5"/>
<circle cx="428.85" cy="131.40" r="1.1" fill="#0b7a4e" stroke="#0a3424" stroke-width="0.5"/>
<circle cx="428.85" cy="136.70" r="1.1" fill="#0b7a4e" stroke="#0a3424" stroke-width="0.5"/>
<circle cx="428.85" cy="141.30" r="1.1" fill="#0b7a4e" stroke="#0a3424" stroke-width="0.5"/>
<circle cx="459.40" cy="37.70" r="1.1" fill="#b8649a" stroke="#58203f" stroke-width="0.5"/>
<circle cx="458.90" cy="44.90" r="1.1" fill="#b8649a" stroke="#58203f" stroke-width="0.5"/>
<circle cx="460.20" cy="45.50" r="1.1" fill="#b8649a" stroke="#58203f" stroke-width="0.5"/>
<circle cx="459.40" cy="50.20" r="1.1" fill="#b8649a" stroke="#58203f" stroke-width="0.5"/>
<circle cx="459.40" cy="54.00" r="1.1" fill="#b8649a" stroke="#58203f" stroke-width="0.5"/>
<circle cx="459.40" cy="55.60" r="1.1" fill="#b8649a" stroke="#58203f" stroke-width="0.5"/>
<circle cx="457.80" cy="61.00" r="1.1" fill="#b8649a" stroke="#58203f" stroke-width="0.5"/>
<circle cx="460.80" cy="61.00" r="1.1" fill="#b8649a" stroke="#58203f" stroke-width="0.5"/>
<circle cx="459.40" cy="62.20" r="1.1" fill="#b8649a" stroke="#58203f" stroke-width="0.5"/>
<circle cx="458.60" cy="63.80" r="1.1" fill="#b8649a" stroke="#58203f" stroke-width="0.5"/>
<circle cx="461.30" cy="63.20" r="1.1" fill="#b8649a" stroke="#58203f" stroke-width="0.5"/>
<circle cx="459.40" cy="64.50" r="1.1" fill="#b8649a" stroke="#58203f" stroke-width="0.5"/>
<circle cx="459.40" cy="65.70" r="1.1" fill="#b8649a" stroke="#58203f" stroke-width="0.5"/>
<circle cx="456.90" cy="79.50" r="1.1" fill="#b8649a" stroke="#58203f" stroke-width="0.5"/>
<circle cx="458.40" cy="79.00" r="1.1" fill="#b8649a" stroke="#58203f" stroke-width="0.5"/>
<circle cx="460.40" cy="79.20" r="1.1" fill="#b8649a" stroke="#58203f" stroke-width="0.5"/>
<circle cx="462.00" cy="80.30" r="1.1" fill="#b8649a" stroke="#58203f" stroke-width="0.5"/>
<circle cx="457.70" cy="81.50" r="1.1" fill="#b8649a" stroke="#58203f" stroke-width="0.5"/>
<circle cx="460.40" cy="81.80" r="1.1" fill="#b8649a" stroke="#58203f" stroke-width="0.5"/>
<circle cx="459.40" cy="83.20" r="1.1" fill="#b8649a" stroke="#58203f" stroke-width="0.5"/>
<circle cx="461.40" cy="82.80" r="1.1" fill="#b8649a" stroke="#58203f" stroke-width="0.5"/>
<circle cx="456.70" cy="81.80" r="1.1" fill="#b8649a" stroke="#58203f" stroke-width="0.5"/>
<circle cx="458.40" cy="89.90" r="1.1" fill="#b8649a" stroke="#58203f" stroke-width="0.5"/>
<circle cx="460.60" cy="89.90" r="1.1" fill="#b8649a" stroke="#58203f" stroke-width="0.5"/>
<circle cx="459.40" cy="95.80" r="1.1" fill="#b8649a" stroke="#58203f" stroke-width="0.5"/>
<circle cx="459.40" cy="99.00" r="1.1" fill="#b8649a" stroke="#58203f" stroke-width="0.5"/>
<circle cx="459.40" cy="100.20" r="1.1" fill="#b8649a" stroke="#58203f" stroke-width="0.5"/>
<circle cx="459.40" cy="106.90" r="1.1" fill="#b8649a" stroke="#58203f" stroke-width="0.5"/>
<circle cx="459.40" cy="71.00" r="1.1" fill="#b8649a" stroke="#58203f" stroke-width="0.5"/>
<circle cx="459.40" cy="67.50" r="1.1" fill="#b8649a" stroke="#58203f" stroke-width="0.5"/>
<circle cx="489.95" cy="101.00" r="1.1" fill="#d05a00" stroke="#4a1a00" stroke-width="0.5"/>
<circle cx="489.95" cy="102.40" r="1.1" fill="#d05a00" stroke="#4a1a00" stroke-width="0.5"/>
<circle cx="489.95" cy="108.70" r="1.1" fill="#d05a00" stroke="#4a1a00" stroke-width="0.5"/>
<circle cx="489.95" cy="109.90" r="1.1" fill="#d05a00" stroke="#4a1a00" stroke-width="0.5"/>
<circle cx="489.05" cy="115.20" r="1.1" fill="#d05a00" stroke="#4a1a00" stroke-width="0.5"/>
<circle cx="490.85" cy="115.20" r="1.1" fill="#d05a00" stroke="#4a1a00" stroke-width="0.5"/>
<circle cx="489.95" cy="121.20" r="1.1" fill="#d05a00" stroke="#4a1a00" stroke-width="0.5"/>
<circle cx="489.95" cy="123.00" r="1.1" fill="#d05a00" stroke="#4a1a00" stroke-width="0.5"/>
<circle cx="489.95" cy="126.00" r="1.1" fill="#d05a00" stroke="#4a1a00" stroke-width="0.5"/>
<circle cx="489.95" cy="128.90" r="1.1" fill="#d05a00" stroke="#4a1a00" stroke-width="0.5"/>
<circle cx="490.95" cy="131.30" r="1.1" fill="#d05a00" stroke="#4a1a00" stroke-width="0.5"/>
<circle cx="489.95" cy="136.70" r="1.1" fill="#d05a00" stroke="#4a1a00" stroke-width="0.5"/>
<circle cx="489.45" cy="130.00" r="1.1" fill="#d05a00" stroke="#4a1a00" stroke-width="0.5"/>
<line x1="548.7" y1="15.3" x2="548.7" y2="146.9" stroke="#9a9a9a" stroke-width="1"/>
<line x1="548.2" y1="146.9" x2="676.3" y2="146.9" stroke="#9a9a9a" stroke-width="1"/>
<line x1="545.2" y1="144.4" x2="548.7" y2="144.4" stroke="#555" stroke-width="0.7"/>
<text x="541.70" y="147.30" font-size="8.4" text-anchor="end" font-weight="normal" fill="#231f20" stroke="#231f20" stroke-width="0.1">2</text>
<line x1="545.2" y1="115.4" x2="548.7" y2="115.4" stroke="#555" stroke-width="0.7"/>
<text x="541.70" y="118.30" font-size="8.4" text-anchor="end" font-weight="normal" fill="#231f20" stroke="#231f20" stroke-width="0.1">4</text>
<line x1="545.2" y1="86.4" x2="548.7" y2="86.4" stroke="#555" stroke-width="0.7"/>
<text x="541.70" y="89.30" font-size="8.4" text-anchor="end" font-weight="normal" fill="#231f20" stroke="#231f20" stroke-width="0.1">6</text>
<line x1="545.2" y1="57.400000000000006" x2="548.7" y2="57.400000000000006" stroke="#555" stroke-width="0.7"/>
<text x="541.70" y="60.30" font-size="8.4" text-anchor="end" font-weight="normal" fill="#231f20" stroke="#231f20" stroke-width="0.1">8</text>
<line x1="545.2" y1="28.400000000000006" x2="548.7" y2="28.400000000000006" stroke="#555" stroke-width="0.7"/>
<text x="541.70" y="31.30" font-size="8.4" text-anchor="end" font-weight="normal" fill="#231f20" stroke="#231f20" stroke-width="0.1">10</text>
<line x1="567.2" y1="146.9" x2="567.2" y2="150.4" stroke="#555" stroke-width="0.7"/>
<line x1="597.57" y1="146.9" x2="597.57" y2="150.4" stroke="#555" stroke-width="0.7"/>
<line x1="627.94" y1="146.9" x2="627.94" y2="150.4" stroke="#555" stroke-width="0.7"/>
<line x1="658.3100000000001" y1="146.9" x2="658.3100000000001" y2="150.4" stroke="#555" stroke-width="0.7"/>
<text transform="translate(570.60,156.70) rotate(-45)" font-size="7.8" text-anchor="end" fill="#231f20" stroke="#231f20" stroke-width="0.1">Before</text>
<text transform="translate(600.97,156.70) rotate(-45)" font-size="7.8" text-anchor="end" fill="#231f20" stroke="#231f20" stroke-width="0.1">After</text>
<text transform="translate(631.34,156.70) rotate(-45)" font-size="7.8" text-anchor="end" fill="#231f20" stroke="#231f20" stroke-width="0.1">Before</text>
<text transform="translate(661.71,156.70) rotate(-45)" font-size="7.8" text-anchor="end" fill="#231f20" stroke="#231f20" stroke-width="0.1">After</text>
<text x="612.50" y="186.20" font-size="9.2" text-anchor="middle" font-weight="normal" fill="#231f20" stroke="#231f20" stroke-width="0.1">Improvement in CmL05 and GmL07</text>
<text transform="translate(527.00,81.10) rotate(-90)" font-size="9.2" text-anchor="middle" fill="#231f20" stroke="#231f20" stroke-width="0.1">log<tspan dy="2" font-size="6">2</tspan><tspan dy="-2">(CPM) (</tspan><tspan font-style="italic">tnaB</tspan> expression)</text>
<text x="567.90" y="22.90" font-size="5.9" text-anchor="middle" font-weight="normal" fill="#231f20" stroke="#231f20" stroke-width="0.1">a</text>
<text x="567.90" y="30.30" font-size="5.9" text-anchor="middle" font-weight="normal" fill="#231f20" stroke="#231f20" stroke-width="0.1"><tspan font-style="italic">n</tspan>&#8201;=&#8201;14</text>
<text x="595.90" y="22.90" font-size="5.9" text-anchor="middle" font-weight="normal" fill="#231f20" stroke="#231f20" stroke-width="0.1">b</text>
<text x="595.90" y="30.30" font-size="5.9" text-anchor="middle" font-weight="normal" fill="#231f20" stroke="#231f20" stroke-width="0.1"><tspan font-style="italic">n</tspan>&#8201;=&#8201;10</text>
<text x="625.80" y="22.90" font-size="5.9" text-anchor="middle" font-weight="normal" fill="#231f20" stroke="#231f20" stroke-width="0.1">a</text>
<text x="625.80" y="30.30" font-size="5.9" text-anchor="middle" font-weight="normal" fill="#231f20" stroke="#231f20" stroke-width="0.1"><tspan font-style="italic">n</tspan>&#8201;=&#8201;33</text>
<text x="657.80" y="22.90" font-size="5.9" text-anchor="middle" font-weight="normal" fill="#231f20" stroke="#231f20" stroke-width="0.1">b</text>
<text x="657.80" y="30.30" font-size="5.9" text-anchor="middle" font-weight="normal" fill="#231f20" stroke="#231f20" stroke-width="0.1"><tspan font-style="italic">n</tspan>&#8201;=&#8201;13</text>
<line x1="567.2" y1="54.5" x2="567.2" y2="69.4" stroke="#f5c870" stroke-width="0.9"/>
<line x1="567.2" y1="92.6" x2="567.2" y2="107.5" stroke="#f5c870" stroke-width="0.9"/>
<rect x="559.65" y="69.4" width="15.1" height="23.20" fill="none" stroke="#f5c870" stroke-width="0.9"/>
<line x1="559.65" y1="80.3" x2="574.75" y2="80.3" stroke="#e3a415" stroke-width="1.3"/>
<line x1="597.57" y1="99.9" x2="597.57" y2="115.1" stroke="#86d5b4" stroke-width="0.9"/>
<line x1="597.57" y1="127.7" x2="597.57" y2="133.9" stroke="#86d5b4" stroke-width="0.9"/>
<rect x="589.47" y="115.1" width="16.2" height="12.60" fill="none" stroke="#86d5b4" stroke-width="0.9"/>
<line x1="589.47" y1="121.3" x2="605.67" y2="121.3" stroke="#4fbf8f" stroke-width="1.3"/>
<line x1="627.94" y1="38.0" x2="627.94" y2="61.3" stroke="#e8a6cb" stroke-width="0.9"/>
<line x1="627.94" y1="81.9" x2="627.94" y2="104.1" stroke="#e8a6cb" stroke-width="0.9"/>
<rect x="620.29" y="61.3" width="15.3" height="20.60" fill="none" stroke="#e8a6cb" stroke-width="0.9"/>
<line x1="620.29" y1="75.1" x2="635.59" y2="75.1" stroke="#dd86b6" stroke-width="1.3"/>
<line x1="658.3100000000001" y1="98.5" x2="658.3100000000001" y2="104.0" stroke="#f4a878" stroke-width="0.9"/>
<line x1="658.3100000000001" y1="117.5" x2="658.3100000000001" y2="140.9" stroke="#f4a878" stroke-width="0.9"/>
<rect x="650.11" y="104.0" width="16.4" height="13.50" fill="none" stroke="#f4a878" stroke-width="0.9"/>
<line x1="650.11" y1="113.6" x2="666.51" y2="113.6" stroke="#ea7a30" stroke-width="1.3"/>
<circle cx="567.20" cy="54.50" r="1.1" fill="#d09a12" stroke="#4f3a00" stroke-width="0.5"/>
<circle cx="567.20" cy="56.50" r="1.1" fill="#d09a12" stroke="#4f3a00" stroke-width="0.5"/>
<circle cx="567.20" cy="59.30" r="1.1" fill="#d09a12" stroke="#4f3a00" stroke-width="0.5"/>
<circle cx="567.20" cy="61.90" r="1.1" fill="#d09a12" stroke="#4f3a00" stroke-width="0.5"/>
<circle cx="567.20" cy="68.80" r="1.1" fill="#d09a12" stroke="#4f3a00" stroke-width="0.5"/>
<circle cx="567.20" cy="72.80" r="1.1" fill="#d09a12" stroke="#4f3a00" stroke-width="0.5"/>
<circle cx="568.00" cy="73.80" r="1.1" fill="#d09a12" stroke="#4f3a00" stroke-width="0.5"/>
<circle cx="567.20" cy="78.70" r="1.1" fill="#d09a12" stroke="#4f3a00" stroke-width="0.5"/>
<circle cx="567.20" cy="80.30" r="1.1" fill="#d09a12" stroke="#4f3a00" stroke-width="0.5"/>
<circle cx="568.00" cy="81.70" r="1.1" fill="#d09a12" stroke="#4f3a00" stroke-width="0.5"/>
<circle cx="567.20" cy="83.70" r="1.1" fill="#d09a12" stroke="#4f3a00" stroke-width="0.5"/>
<circle cx="567.20" cy="94.20" r="1.1" fill="#d09a12" stroke="#4f3a00" stroke-width="0.5"/>
<circle cx="568.00" cy="95.20" r="1.1" fill="#d09a12" stroke="#4f3a00" stroke-width="0.5"/>
<circle cx="567.20" cy="102.50" r="1.1" fill="#d09a12" stroke="#4f3a00" stroke-width="0.5"/>
<circle cx="567.20" cy="107.50" r="1.1" fill="#d09a12" stroke="#4f3a00" stroke-width="0.5"/>
<circle cx="597.57" cy="99.90" r="1.1" fill="#0b7a4e" stroke="#0a3424" stroke-width="0.5"/>
<circle cx="597.57" cy="111.80" r="1.1" fill="#0b7a4e" stroke="#0a3424" stroke-width="0.5"/>
<circle cx="597.57" cy="113.10" r="1.1" fill="#0b7a4e" stroke="#0a3424" stroke-width="0.5"/>
<circle cx="597.57" cy="114.50" r="1.1" fill="#0b7a4e" stroke="#0a3424" stroke-width="0.5"/>
<circle cx="597.57" cy="118.80" r="1.1" fill="#0b7a4e" stroke="#0a3424" stroke-width="0.5"/>
<circle cx="597.57" cy="120.20" r="1.1" fill="#0b7a4e" stroke="#0a3424" stroke-width="0.5"/>
<circle cx="598.50" cy="121.70" r="1.1" fill="#0b7a4e" stroke="#0a3424" stroke-width="0.5"/>
<circle cx="597.57" cy="125.40" r="1.1" fill="#0b7a4e" stroke="#0a3424" stroke-width="0.5"/>
<circle cx="597.57" cy="128.60" r="1.1" fill="#0b7a4e" stroke="#0a3424" stroke-width="0.5"/>
<circle cx="598.50" cy="129.40" r="1.1" fill="#0b7a4e" stroke="#0a3424" stroke-width="0.5"/>
<circle cx="597.57" cy="133.00" r="1.1" fill="#0b7a4e" stroke="#0a3424" stroke-width="0.5"/>
<circle cx="597.57" cy="133.90" r="1.1" fill="#0b7a4e" stroke="#0a3424" stroke-width="0.5"/>
<circle cx="627.94" cy="38.00" r="1.1" fill="#b8649a" stroke="#58203f" stroke-width="0.5"/>
<circle cx="627.94" cy="42.30" r="1.1" fill="#b8649a" stroke="#58203f" stroke-width="0.5"/>
<circle cx="627.94" cy="44.80" r="1.1" fill="#b8649a" stroke="#58203f" stroke-width="0.5"/>
<circle cx="627.94" cy="48.60" r="1.1" fill="#b8649a" stroke="#58203f" stroke-width="0.5"/>
<circle cx="627.94" cy="55.40" r="1.1" fill="#b8649a" stroke="#58203f" stroke-width="0.5"/>
<circle cx="627.94" cy="57.00" r="1.1" fill="#b8649a" stroke="#58203f" stroke-width="0.5"/>
<circle cx="627.94" cy="58.60" r="1.1" fill="#b8649a" stroke="#58203f" stroke-width="0.5"/>
<circle cx="627.94" cy="60.20" r="1.1" fill="#b8649a" stroke="#58203f" stroke-width="0.5"/>
<circle cx="627.94" cy="61.80" r="1.1" fill="#b8649a" stroke="#58203f" stroke-width="0.5"/>
<circle cx="627.94" cy="63.40" r="1.1" fill="#b8649a" stroke="#58203f" stroke-width="0.5"/>
<circle cx="627.94" cy="65.00" r="1.1" fill="#b8649a" stroke="#58203f" stroke-width="0.5"/>
<circle cx="627.14" cy="73.40" r="1.1" fill="#b8649a" stroke="#58203f" stroke-width="0.5"/>
<circle cx="628.74" cy="74.85" r="1.1" fill="#b8649a" stroke="#58203f" stroke-width="0.5"/>
<circle cx="627.14" cy="76.30" r="1.1" fill="#b8649a" stroke="#58203f" stroke-width="0.5"/>
<circle cx="628.74" cy="77.75" r="1.1" fill="#b8649a" stroke="#58203f" stroke-width="0.5"/>
<circle cx="627.14" cy="79.20" r="1.1" fill="#b8649a" stroke="#58203f" stroke-width="0.5"/>
<circle cx="628.74" cy="80.65" r="1.1" fill="#b8649a" stroke="#58203f" stroke-width="0.5"/>
<circle cx="627.14" cy="82.10" r="1.1" fill="#b8649a" stroke="#58203f" stroke-width="0.5"/>
<circle cx="628.74" cy="83.55" r="1.1" fill="#b8649a" stroke="#58203f" stroke-width="0.5"/>
<circle cx="627.14" cy="85.00" r="1.1" fill="#b8649a" stroke="#58203f" stroke-width="0.5"/>
<circle cx="628.74" cy="86.45" r="1.1" fill="#b8649a" stroke="#58203f" stroke-width="0.5"/>
<circle cx="627.94" cy="93.00" r="1.1" fill="#b8649a" stroke="#58203f" stroke-width="0.5"/>
<circle cx="627.94" cy="98.10" r="1.1" fill="#b8649a" stroke="#58203f" stroke-width="0.5"/>
<circle cx="627.94" cy="102.00" r="1.1" fill="#b8649a" stroke="#58203f" stroke-width="0.5"/>
<circle cx="627.94" cy="104.10" r="1.1" fill="#b8649a" stroke="#58203f" stroke-width="0.5"/>
<circle cx="628.64" cy="58.00" r="1.1" fill="#b8649a" stroke="#58203f" stroke-width="0.5"/>
<circle cx="627.24" cy="63.00" r="1.1" fill="#b8649a" stroke="#58203f" stroke-width="0.5"/>
<circle cx="628.84" cy="77.00" r="1.1" fill="#b8649a" stroke="#58203f" stroke-width="0.5"/>
<circle cx="627.04" cy="82.00" r="1.1" fill="#b8649a" stroke="#58203f" stroke-width="0.5"/>
<circle cx="628.54" cy="86.00" r="1.1" fill="#b8649a" stroke="#58203f" stroke-width="0.5"/>
<circle cx="658.31" cy="98.50" r="1.1" fill="#d05a00" stroke="#4a1a00" stroke-width="0.5"/>
<circle cx="657.71" cy="102.80" r="1.1" fill="#d05a00" stroke="#4a1a00" stroke-width="0.5"/>
<circle cx="658.91" cy="104.00" r="1.1" fill="#d05a00" stroke="#4a1a00" stroke-width="0.5"/>
<circle cx="659.71" cy="104.80" r="1.1" fill="#d05a00" stroke="#4a1a00" stroke-width="0.5"/>
<circle cx="658.31" cy="110.70" r="1.1" fill="#d05a00" stroke="#4a1a00" stroke-width="0.5"/>
<circle cx="657.91" cy="113.60" r="1.1" fill="#d05a00" stroke="#4a1a00" stroke-width="0.5"/>
<circle cx="659.11" cy="114.40" r="1.1" fill="#d05a00" stroke="#4a1a00" stroke-width="0.5"/>
<circle cx="658.91" cy="116.70" r="1.1" fill="#d05a00" stroke="#4a1a00" stroke-width="0.5"/>
<circle cx="657.71" cy="117.90" r="1.1" fill="#d05a00" stroke="#4a1a00" stroke-width="0.5"/>
<circle cx="658.31" cy="123.10" r="1.1" fill="#d05a00" stroke="#4a1a00" stroke-width="0.5"/>
<circle cx="658.31" cy="131.80" r="1.1" fill="#d05a00" stroke="#4a1a00" stroke-width="0.5"/>
<circle cx="658.31" cy="140.90" r="1.1" fill="#d05a00" stroke="#4a1a00" stroke-width="0.5"/>
<line x1="38.4" y1="209" x2="38.4" y2="339.4" stroke="#9a9a9a" stroke-width="1"/>
<line x1="37.9" y1="339.4" x2="160" y2="339.4" stroke="#9a9a9a" stroke-width="1"/>
<line x1="34.9" y1="334.0" x2="38.4" y2="334.0" stroke="#555" stroke-width="0.7"/>
<text x="31.40" y="336.90" font-size="8.4" text-anchor="end" font-weight="normal" fill="#231f20" stroke="#231f20" stroke-width="0.1">0</text>
<line x1="34.9" y1="302.4875" x2="38.4" y2="302.4875" stroke="#555" stroke-width="0.7"/>
<text x="31.40" y="305.39" font-size="8.4" text-anchor="end" font-weight="normal" fill="#231f20" stroke="#231f20" stroke-width="0.1">25</text>
<line x1="34.9" y1="270.975" x2="38.4" y2="270.975" stroke="#555" stroke-width="0.7"/>
<text x="31.40" y="273.88" font-size="8.4" text-anchor="end" font-weight="normal" fill="#231f20" stroke="#231f20" stroke-width="0.1">50</text>
<line x1="34.9" y1="239.4625" x2="38.4" y2="239.4625" stroke="#555" stroke-width="0.7"/>
<text x="31.40" y="242.36" font-size="8.4" text-anchor="end" font-weight="normal" fill="#231f20" stroke="#231f20" stroke-width="0.1">75</text>
<line x1="49.6" y1="339.4" x2="49.6" y2="342.9" stroke="#555" stroke-width="0.7"/>
<line x1="69.34" y1="339.4" x2="69.34" y2="342.9" stroke="#555" stroke-width="0.7"/>
<line x1="89.08" y1="339.4" x2="89.08" y2="342.9" stroke="#555" stroke-width="0.7"/>
<line x1="108.82" y1="339.4" x2="108.82" y2="342.9" stroke="#555" stroke-width="0.7"/>
<line x1="128.56" y1="339.4" x2="128.56" y2="342.9" stroke="#555" stroke-width="0.7"/>
<line x1="148.29999999999998" y1="339.4" x2="148.29999999999998" y2="342.9" stroke="#555" stroke-width="0.7"/>
<text transform="translate(53.20,350.40) rotate(-45)" font-size="7.1" text-anchor="end" fill="#231f20" stroke="#231f20" stroke-width="0.1">Sym A</text>
<text transform="translate(72.94,350.40) rotate(-45)" font-size="7.1" text-anchor="end" fill="#231f20" stroke="#231f20" stroke-width="0.1">&#916;<tspan font-style="italic">cyaA</tspan></text>
<text transform="translate(92.68,350.40) rotate(-45)" font-size="7.1" text-anchor="end" fill="#231f20" stroke="#231f20" stroke-width="0.1">&#916;<tspan font-style="italic">crp</tspan></text>
<text transform="translate(112.42,350.40) rotate(-45)" font-size="7.1" text-anchor="end" fill="#231f20" stroke="#231f20" stroke-width="0.1">&#916;<tspan font-style="italic">tnaA</tspan></text>
<text transform="translate(132.16,350.40) rotate(-45)" font-size="7.1" text-anchor="end" fill="#231f20" stroke="#231f20" stroke-width="0.1">&#916;<tspan font-style="italic">tnaB</tspan></text>
<text transform="translate(151.90,350.40) rotate(-45)" font-size="7.1" text-anchor="end" fill="#231f20" stroke="#231f20" stroke-width="0.1">&#916;<tspan font-style="italic">intS</tspan></text>
<text x="99.20" y="377.50" font-size="9.0" text-anchor="middle" font-weight="normal" fill="#231f20" stroke="#231f20" stroke-width="0.1">Bacterial strains</text>
<text transform="translate(8.30,274.20) rotate(-90)" font-size="9.0" text-anchor="middle" fill="#231f20" stroke="#231f20" stroke-width="0.1">Adult emergence rate (%)</text>
<text x="50.20" y="214.30" font-size="5.9" text-anchor="middle" font-weight="normal" fill="#231f20" stroke="#231f20" stroke-width="0.1">a</text>
<text x="50.20" y="221.60" font-size="5.9" text-anchor="middle" font-weight="normal" fill="#231f20" stroke="#231f20" stroke-width="0.1"><tspan font-style="italic">n</tspan>&#8201;=&#8201;6</text>
<text x="70.13" y="214.30" font-size="5.9" text-anchor="middle" font-weight="normal" fill="#231f20" stroke="#231f20" stroke-width="0.1">a</text>
<text x="70.13" y="221.60" font-size="5.9" text-anchor="middle" font-weight="normal" fill="#231f20" stroke="#231f20" stroke-width="0.1"><tspan font-style="italic">n</tspan>&#8201;=&#8201;6</text>
<text x="90.06" y="214.30" font-size="5.9" text-anchor="middle" font-weight="normal" fill="#231f20" stroke="#231f20" stroke-width="0.1">ab</text>
<text x="90.06" y="221.60" font-size="5.9" text-anchor="middle" font-weight="normal" fill="#231f20" stroke="#231f20" stroke-width="0.1"><tspan font-style="italic">n</tspan>&#8201;=&#8201;6</text>
<text x="109.99" y="214.30" font-size="5.9" text-anchor="middle" font-weight="normal" fill="#231f20" stroke="#231f20" stroke-width="0.1">a</text>
<text x="109.99" y="221.60" font-size="5.9" text-anchor="middle" font-weight="normal" fill="#231f20" stroke="#231f20" stroke-width="0.1"><tspan font-style="italic">n</tspan>&#8201;=&#8201;6</text>
<text x="129.92" y="214.30" font-size="5.9" text-anchor="middle" font-weight="normal" fill="#231f20" stroke="#231f20" stroke-width="0.1">b</text>
<text x="129.92" y="221.60" font-size="5.9" text-anchor="middle" font-weight="normal" fill="#231f20" stroke="#231f20" stroke-width="0.1"><tspan font-style="italic">n</tspan>&#8201;=&#8201;6</text>
<text x="149.85" y="214.30" font-size="5.9" text-anchor="middle" font-weight="normal" fill="#231f20" stroke="#231f20" stroke-width="0.1">b</text>
<text x="149.85" y="221.60" font-size="5.9" text-anchor="middle" font-weight="normal" fill="#231f20" stroke="#231f20" stroke-width="0.1"><tspan font-style="italic">n</tspan>&#8201;=&#8201;6</text>
<line x1="49.6" y1="232.9" x2="49.6" y2="244.4" stroke="#86d5b4" stroke-width="0.9"/>
<line x1="49.6" y1="261.5" x2="49.6" y2="284.0" stroke="#86d5b4" stroke-width="0.9"/>
<rect x="44.25" y="244.4" width="10.7" height="17.10" fill="none" stroke="#86d5b4" stroke-width="0.9"/>
<line x1="44.25" y1="251.2" x2="54.95" y2="251.2" stroke="#4fbf8f" stroke-width="1.3"/>
<line x1="69.34" y1="229.4" x2="69.34" y2="231.3" stroke="#6aaedf" stroke-width="0.9"/>
<line x1="69.34" y1="256.4" x2="69.34" y2="256.4" stroke="#6aaedf" stroke-width="0.9"/>
<rect x="64.19" y="231.3" width="10.3" height="25.10" fill="none" stroke="#6aaedf" stroke-width="0.9"/>
<line x1="64.19" y1="244.5" x2="74.49" y2="244.5" stroke="#2f86c8" stroke-width="1.3"/>
<line x1="89.08" y1="227.4" x2="89.08" y2="234.5" stroke="#94d0f2" stroke-width="0.9"/>
<line x1="89.08" y1="259.1" x2="89.08" y2="263.1" stroke="#94d0f2" stroke-width="0.9"/>
<rect x="83.73" y="234.5" width="10.7" height="24.60" fill="none" stroke="#94d0f2" stroke-width="0.9"/>
<line x1="83.73" y1="242.8" x2="94.43" y2="242.8" stroke="#5cb4e8" stroke-width="1.3"/>
<line x1="108.82" y1="247.5" x2="108.82" y2="251.2" stroke="#e8a6cb" stroke-width="0.9"/>
<line x1="108.82" y1="262.8" x2="108.82" y2="278.2" stroke="#e8a6cb" stroke-width="0.9"/>
<rect x="103.67" y="251.2" width="10.3" height="11.60" fill="none" stroke="#e8a6cb" stroke-width="0.9"/>
<line x1="103.67" y1="254.4" x2="113.97" y2="254.4" stroke="#dd86b6" stroke-width="1.3"/>
<line x1="128.56" y1="303.9" x2="128.56" y2="313.1" stroke="#f4a878" stroke-width="0.9"/>
<line x1="128.56" y1="322.6" x2="128.56" y2="332.5" stroke="#f4a878" stroke-width="0.9"/>
<rect x="123.31" y="313.1" width="10.5" height="9.50" fill="none" stroke="#f4a878" stroke-width="0.9"/>
<line x1="123.31" y1="319.6" x2="133.81" y2="319.6" stroke="#ea7a30" stroke-width="1.3"/>
<line x1="148.29999999999998" y1="302.4" x2="148.29999999999998" y2="311.3" stroke="#f4c454" stroke-width="0.9"/>
<line x1="148.29999999999998" y1="317.0" x2="148.29999999999998" y2="332.5" stroke="#f4c454" stroke-width="0.9"/>
<rect x="143.05" y="311.3" width="10.5" height="5.70" fill="none" stroke="#f4c454" stroke-width="0.9"/>
<line x1="143.05" y1="316.7" x2="153.55" y2="316.7" stroke="#eeb020" stroke-width="1.3"/>
<circle cx="49.60" cy="232.90" r="1.45" fill="#0b7a4e" stroke="#0a3424" stroke-width="0.5"/>
<circle cx="49.60" cy="243.70" r="1.45" fill="#0b7a4e" stroke="#0a3424" stroke-width="0.5"/>
<circle cx="49.60" cy="246.40" r="1.45" fill="#0b7a4e" stroke="#0a3424" stroke-width="0.5"/>
<circle cx="49.60" cy="255.60" r="1.45" fill="#0b7a4e" stroke="#0a3424" stroke-width="0.5"/>
<circle cx="49.60" cy="263.10" r="1.45" fill="#0b7a4e" stroke="#0a3424" stroke-width="0.5"/>
<circle cx="49.60" cy="284.00" r="1.45" fill="#0b7a4e" stroke="#0a3424" stroke-width="0.5"/>
<circle cx="68.90" cy="229.40" r="1.45" fill="#105b92" stroke="#0a2a45" stroke-width="0.5"/>
<circle cx="71.00" cy="229.40" r="1.45" fill="#105b92" stroke="#0a2a45" stroke-width="0.5"/>
<circle cx="69.34" cy="234.50" r="1.45" fill="#105b92" stroke="#0a2a45" stroke-width="0.5"/>
<circle cx="69.34" cy="253.90" r="1.45" fill="#105b92" stroke="#0a2a45" stroke-width="0.5"/>
<circle cx="68.90" cy="256.40" r="1.45" fill="#105b92" stroke="#0a2a45" stroke-width="0.5"/>
<circle cx="71.00" cy="256.40" r="1.45" fill="#105b92" stroke="#0a2a45" stroke-width="0.5"/>
<circle cx="89.08" cy="227.40" r="1.45" fill="#3a9ad8" stroke="#17425f" stroke-width="0.5"/>
<circle cx="89.08" cy="232.90" r="1.45" fill="#3a9ad8" stroke="#17425f" stroke-width="0.5"/>
<circle cx="89.08" cy="237.70" r="1.45" fill="#3a9ad8" stroke="#17425f" stroke-width="0.5"/>
<circle cx="89.08" cy="248.00" r="1.45" fill="#3a9ad8" stroke="#17425f" stroke-width="0.5"/>
<circle cx="89.08" cy="263.10" r="1.45" fill="#3a9ad8" stroke="#17425f" stroke-width="0.5"/>
<circle cx="89.08" cy="334.00" r="1.45" fill="#3a9ad8" stroke="#17425f" stroke-width="0.5"/>
<circle cx="108.82" cy="247.50" r="1.45" fill="#b8649a" stroke="#58203f" stroke-width="0.5"/>
<circle cx="108.82" cy="249.60" r="1.45" fill="#b8649a" stroke="#58203f" stroke-width="0.5"/>
<circle cx="108.82" cy="251.20" r="1.45" fill="#b8649a" stroke="#58203f" stroke-width="0.5"/>
<circle cx="108.82" cy="253.60" r="1.45" fill="#b8649a" stroke="#58203f" stroke-width="0.5"/>
<circle cx="108.82" cy="257.20" r="1.45" fill="#b8649a" stroke="#58203f" stroke-width="0.5"/>
<circle cx="108.82" cy="264.40" r="1.45" fill="#b8649a" stroke="#58203f" stroke-width="0.5"/>
<circle cx="108.82" cy="278.20" r="1.45" fill="#b8649a" stroke="#58203f" stroke-width="0.5"/>
<circle cx="128.56" cy="303.90" r="1.45" fill="#d05a00" stroke="#4a1a00" stroke-width="0.5"/>
<circle cx="128.56" cy="311.30" r="1.45" fill="#d05a00" stroke="#4a1a00" stroke-width="0.5"/>
<circle cx="128.56" cy="318.20" r="1.45" fill="#d05a00" stroke="#4a1a00" stroke-width="0.5"/>
<circle cx="128.56" cy="319.40" r="1.45" fill="#d05a00" stroke="#4a1a00" stroke-width="0.5"/>
<circle cx="128.56" cy="321.40" r="1.45" fill="#d05a00" stroke="#4a1a00" stroke-width="0.5"/>
<circle cx="128.56" cy="323.60" r="1.45" fill="#d05a00" stroke="#4a1a00" stroke-width="0.5"/>
<circle cx="128.56" cy="332.50" r="1.45" fill="#d05a00" stroke="#4a1a00" stroke-width="0.5"/>
<circle cx="148.30" cy="302.40" r="1.45" fill="#e0a000" stroke="#4f3a00" stroke-width="0.5"/>
<circle cx="148.30" cy="309.90" r="1.45" fill="#e0a000" stroke="#4f3a00" stroke-width="0.5"/>
<circle cx="148.30" cy="315.80" r="1.45" fill="#e0a000" stroke="#4f3a00" stroke-width="0.5"/>
<circle cx="149.30" cy="317.00" r="1.45" fill="#e0a000" stroke="#4f3a00" stroke-width="0.5"/>
<circle cx="148.30" cy="332.50" r="1.45" fill="#e0a000" stroke="#4f3a00" stroke-width="0.5"/>
<line x1="213.7" y1="209" x2="213.7" y2="340.2" stroke="#9a9a9a" stroke-width="1"/>
<line x1="213.2" y1="340.2" x2="338.8" y2="340.2" stroke="#9a9a9a" stroke-width="1"/>
<line x1="210.2" y1="340.2" x2="213.7" y2="340.2" stroke="#555" stroke-width="0.7"/>
<text x="206.70" y="343.10" font-size="7.8" text-anchor="end" font-weight="normal" fill="#231f20" stroke="#231f20" stroke-width="0.1">80</text>
<line x1="210.2" y1="316.78" x2="213.7" y2="316.78" stroke="#555" stroke-width="0.7"/>
<text x="206.70" y="319.68" font-size="7.8" text-anchor="end" font-weight="normal" fill="#231f20" stroke="#231f20" stroke-width="0.1">90</text>
<line x1="210.2" y1="293.36" x2="213.7" y2="293.36" stroke="#555" stroke-width="0.7"/>
<text x="206.70" y="296.26" font-size="7.8" text-anchor="end" font-weight="normal" fill="#231f20" stroke="#231f20" stroke-width="0.1">100</text>
<line x1="210.2" y1="269.94" x2="213.7" y2="269.94" stroke="#555" stroke-width="0.7"/>
<text x="206.70" y="272.84" font-size="7.8" text-anchor="end" font-weight="normal" fill="#231f20" stroke="#231f20" stroke-width="0.1">110</text>
<line x1="210.2" y1="246.51999999999998" x2="213.7" y2="246.51999999999998" stroke="#555" stroke-width="0.7"/>
<text x="206.70" y="249.42" font-size="7.8" text-anchor="end" font-weight="normal" fill="#231f20" stroke="#231f20" stroke-width="0.1">120</text>
<line x1="210.2" y1="223.09999999999997" x2="213.7" y2="223.09999999999997" stroke="#555" stroke-width="0.7"/>
<text x="206.70" y="226.00" font-size="7.8" text-anchor="end" font-weight="normal" fill="#231f20" stroke="#231f20" stroke-width="0.1">130</text>
<line x1="226.3" y1="340.2" x2="226.3" y2="343.7" stroke="#555" stroke-width="0.7"/>
<line x1="246.38" y1="340.2" x2="246.38" y2="343.7" stroke="#555" stroke-width="0.7"/>
<line x1="266.46000000000004" y1="340.2" x2="266.46000000000004" y2="343.7" stroke="#555" stroke-width="0.7"/>
<line x1="286.54" y1="340.2" x2="286.54" y2="343.7" stroke="#555" stroke-width="0.7"/>
<line x1="306.62" y1="340.2" x2="306.62" y2="343.7" stroke="#555" stroke-width="0.7"/>
<line x1="326.7" y1="340.2" x2="326.7" y2="343.7" stroke="#555" stroke-width="0.7"/>
<text transform="translate(229.90,351.20) rotate(-45)" font-size="7.1" text-anchor="end" fill="#231f20" stroke="#231f20" stroke-width="0.1">Sym A</text>
<text transform="translate(249.98,351.20) rotate(-45)" font-size="7.1" text-anchor="end" fill="#231f20" stroke="#231f20" stroke-width="0.1">&#916;<tspan font-style="italic">cyaA</tspan></text>
<text transform="translate(270.06,351.20) rotate(-45)" font-size="7.1" text-anchor="end" fill="#231f20" stroke="#231f20" stroke-width="0.1">&#916;<tspan font-style="italic">crp</tspan></text>
<text transform="translate(290.14,351.20) rotate(-45)" font-size="7.1" text-anchor="end" fill="#231f20" stroke="#231f20" stroke-width="0.1">&#916;<tspan font-style="italic">tnaA</tspan></text>
<text transform="translate(310.22,351.20) rotate(-45)" font-size="7.1" text-anchor="end" fill="#231f20" stroke="#231f20" stroke-width="0.1">&#916;<tspan font-style="italic">tnaB</tspan></text>
<text transform="translate(330.30,351.20) rotate(-45)" font-size="7.1" text-anchor="end" fill="#231f20" stroke="#231f20" stroke-width="0.1">&#916;<tspan font-style="italic">intS</tspan></text>
<text x="276.25" y="377.50" font-size="9.0" text-anchor="middle" font-weight="normal" fill="#231f20" stroke="#231f20" stroke-width="0.1">Bacterial strains</text>
<text transform="translate(185.50,274.60) rotate(-90)" font-size="9.0" text-anchor="middle" fill="#231f20" stroke="#231f20" stroke-width="0.1">Adult body colour (hue)</text>
<text x="224.80" y="214.80" font-size="6.2" text-anchor="middle" font-weight="normal" fill="#231f20" stroke="#231f20" stroke-width="0.1">a</text>
<text x="246.90" y="214.80" font-size="6.2" text-anchor="middle" font-weight="normal" fill="#231f20" stroke="#231f20" stroke-width="0.1">b</text>
<text x="268.40" y="214.80" font-size="6.2" text-anchor="middle" font-weight="normal" fill="#231f20" stroke="#231f20" stroke-width="0.1">b</text>
<text x="289.90" y="214.80" font-size="6.2" text-anchor="middle" font-weight="normal" fill="#231f20" stroke="#231f20" stroke-width="0.1">b</text>
<text x="309.90" y="214.80" font-size="6.2" text-anchor="middle" font-weight="normal" fill="#231f20" stroke="#231f20" stroke-width="0.1">c</text>
<text x="328.50" y="214.80" font-size="6.2" text-anchor="middle" font-weight="normal" fill="#231f20" stroke="#231f20" stroke-width="0.1">c</text>
<text x="224.80" y="221.90" font-size="6.2" text-anchor="middle" font-weight="normal" fill="#231f20" stroke="#231f20" stroke-width="0.1"><tspan font-style="italic">n</tspan>&#8201;=&#8201;300</text>
<text x="246.90" y="221.90" font-size="6.2" text-anchor="middle" font-weight="normal" fill="#231f20" stroke="#231f20" stroke-width="0.1"><tspan font-style="italic">n</tspan>&#8201;=&#8201;285</text>
<text x="268.40" y="221.90" font-size="6.2" text-anchor="middle" font-weight="normal" fill="#231f20" stroke="#231f20" stroke-width="0.1"><tspan font-style="italic">n</tspan>&#8201;=&#8201;269</text>
<text x="289.90" y="221.90" font-size="6.2" text-anchor="middle" font-weight="normal" fill="#231f20" stroke="#231f20" stroke-width="0.1"><tspan font-style="italic">n</tspan>&#8201;=&#8201;241</text>
<text x="309.90" y="221.90" font-size="6.2" text-anchor="middle" font-weight="normal" fill="#231f20" stroke="#231f20" stroke-width="0.1"><tspan font-style="italic">n</tspan>&#8201;=&#8201;30</text>
<text x="328.50" y="221.90" font-size="6.2" text-anchor="middle" font-weight="normal" fill="#231f20" stroke="#231f20" stroke-width="0.1"><tspan font-style="italic">n</tspan>&#8201;=&#8201;29</text>
<rect x="225.81" y="228.35" width="1.0" height="0.9" fill="#52bf8f" opacity="0.9"/>
<rect x="225.82" y="229.65" width="1.0" height="0.9" fill="#52bf8f" opacity="0.9"/>
<rect x="225.15" y="232.25" width="1.0" height="0.9" fill="#52bf8f" opacity="0.9"/>
<rect x="224.13" y="233.50" width="3.93" height="1.0" fill="#52bf8f" opacity="0.82"/>
<rect x="228.06" y="233.50" width="0.42" height="1.0" fill="#52bf8f" opacity="0.82"/>
<rect x="222.88" y="234.80" width="3.79" height="1.0" fill="#52bf8f" opacity="0.82"/>
<rect x="226.67" y="234.80" width="3.05" height="1.0" fill="#52bf8f" opacity="0.82"/>
<rect x="223.32" y="236.10" width="2.17" height="1.0" fill="#52bf8f" opacity="0.82"/>
<rect x="225.49" y="236.10" width="3.60" height="1.0" fill="#52bf8f" opacity="0.82"/>
<rect x="222.02" y="237.40" width="3.57" height="1.0" fill="#52bf8f" opacity="0.82"/>
<rect x="225.59" y="237.40" width="3.32" height="1.0" fill="#52bf8f" opacity="0.82"/>
<rect x="229.41" y="237.40" width="1.17" height="1.0" fill="#52bf8f" opacity="0.82"/>
<rect x="220.85" y="238.70" width="2.47" height="1.0" fill="#52bf8f" opacity="0.82"/>
<rect x="223.32" y="238.70" width="3.98" height="1.0" fill="#52bf8f" opacity="0.82"/>
<rect x="227.80" y="238.70" width="3.95" height="1.0" fill="#52bf8f" opacity="0.82"/>
<rect x="221.22" y="240.00" width="3.47" height="1.0" fill="#52bf8f" opacity="0.82"/>
<rect x="224.69" y="240.00" width="2.90" height="1.0" fill="#52bf8f" opacity="0.82"/>
<rect x="228.10" y="240.00" width="2.85" height="1.0" fill="#52bf8f" opacity="0.82"/>
<rect x="230.95" y="240.00" width="0.43" height="1.0" fill="#52bf8f" opacity="0.82"/>
<rect x="219.88" y="241.30" width="4.74" height="1.0" fill="#52bf8f" opacity="0.82"/>
<rect x="224.63" y="241.30" width="3.14" height="1.0" fill="#52bf8f" opacity="0.82"/>
<rect x="228.57" y="241.30" width="2.97" height="1.0" fill="#52bf8f" opacity="0.82"/>
<rect x="231.54" y="241.30" width="1.18" height="1.0" fill="#52bf8f" opacity="0.82"/>
<rect x="218.62" y="242.60" width="2.59" height="1.0" fill="#52bf8f" opacity="0.82"/>
<rect x="221.21" y="242.60" width="4.87" height="1.0" fill="#52bf8f" opacity="0.82"/>
<rect x="226.08" y="242.60" width="1.97" height="1.0" fill="#52bf8f" opacity="0.82"/>
<rect x="228.05" y="242.60" width="1.54" height="1.0" fill="#52bf8f" opacity="0.82"/>
<rect x="230.39" y="242.60" width="3.60" height="1.0" fill="#52bf8f" opacity="0.82"/>
<rect x="216.31" y="243.90" width="2.16" height="1.0" fill="#52bf8f" opacity="0.82"/>
<rect x="218.46" y="243.90" width="4.95" height="1.0" fill="#52bf8f" opacity="0.82"/>
<rect x="223.41" y="243.90" width="2.97" height="1.0" fill="#52bf8f" opacity="0.82"/>
<rect x="227.18" y="243.90" width="1.91" height="1.0" fill="#52bf8f" opacity="0.82"/>
<rect x="229.89" y="243.90" width="4.97" height="1.0" fill="#52bf8f" opacity="0.82"/>
<rect x="234.85" y="243.90" width="1.44" height="1.0" fill="#52bf8f" opacity="0.82"/>
<rect x="213.84" y="245.20" width="1.57" height="1.0" fill="#52bf8f" opacity="0.82"/>
<rect x="215.41" y="245.20" width="2.88" height="1.0" fill="#52bf8f" opacity="0.82"/>
<rect x="218.29" y="245.20" width="1.65" height="1.0" fill="#52bf8f" opacity="0.82"/>
<rect x="219.94" y="245.20" width="2.25" height="1.0" fill="#52bf8f" opacity="0.82"/>
<rect x="222.68" y="245.20" width="1.53" height="1.0" fill="#52bf8f" opacity="0.82"/>
<rect x="224.72" y="245.20" width="4.41" height="1.0" fill="#52bf8f" opacity="0.82"/>
<rect x="229.92" y="245.20" width="1.76" height="1.0" fill="#52bf8f" opacity="0.82"/>
<rect x="231.68" y="245.20" width="2.23" height="1.0" fill="#52bf8f" opacity="0.82"/>
<rect x="233.91" y="245.20" width="1.55" height="1.0" fill="#52bf8f" opacity="0.82"/>
<rect x="235.96" y="245.20" width="2.79" height="1.0" fill="#52bf8f" opacity="0.82"/>
<rect x="217.14" y="246.50" width="3.56" height="1.0" fill="#52bf8f" opacity="0.82"/>
<rect x="220.70" y="246.50" width="4.53" height="1.0" fill="#52bf8f" opacity="0.82"/>
<rect x="225.23" y="246.50" width="3.70" height="1.0" fill="#52bf8f" opacity="0.82"/>
<rect x="229.43" y="246.50" width="4.68" height="1.0" fill="#52bf8f" opacity="0.82"/>
<rect x="234.11" y="246.50" width="1.35" height="1.0" fill="#52bf8f" opacity="0.82"/>
<rect x="213.01" y="247.80" width="4.79" height="1.0" fill="#52bf8f" opacity="0.82"/>
<rect x="217.81" y="247.80" width="3.90" height="1.0" fill="#52bf8f" opacity="0.82"/>
<rect x="222.51" y="247.80" width="4.59" height="1.0" fill="#52bf8f" opacity="0.82"/>
<rect x="227.10" y="247.80" width="2.98" height="1.0" fill="#52bf8f" opacity="0.82"/>
<rect x="230.07" y="247.80" width="1.88" height="1.0" fill="#52bf8f" opacity="0.82"/>
<rect x="232.45" y="247.80" width="2.33" height="1.0" fill="#52bf8f" opacity="0.82"/>
<rect x="235.59" y="247.80" width="2.40" height="1.0" fill="#52bf8f" opacity="0.82"/>
<rect x="238.79" y="247.80" width="0.80" height="1.0" fill="#52bf8f" opacity="0.82"/>
<rect x="212.86" y="249.10" width="4.92" height="1.0" fill="#52bf8f" opacity="0.82"/>
<rect x="217.78" y="249.10" width="2.30" height="1.0" fill="#52bf8f" opacity="0.82"/>
<rect x="220.08" y="249.10" width="2.48" height="1.0" fill="#52bf8f" opacity="0.82"/>
<rect x="222.56" y="249.10" width="4.12" height="1.0" fill="#52bf8f" opacity="0.82"/>
<rect x="226.68" y="249.10" width="2.44" height="1.0" fill="#52bf8f" opacity="0.82"/>
<rect x="229.92" y="249.10" width="2.37" height="1.0" fill="#52bf8f" opacity="0.82"/>
<rect x="232.29" y="249.10" width="2.12" height="1.0" fill="#52bf8f" opacity="0.82"/>
<rect x="234.91" y="249.10" width="3.36" height="1.0" fill="#52bf8f" opacity="0.82"/>
<rect x="238.27" y="249.10" width="1.48" height="1.0" fill="#52bf8f" opacity="0.82"/>
<rect x="213.93" y="250.40" width="4.93" height="1.0" fill="#52bf8f" opacity="0.82"/>
<rect x="218.86" y="250.40" width="3.56" height="1.0" fill="#52bf8f" opacity="0.82"/>
<rect x="222.42" y="250.40" width="3.16" height="1.0" fill="#52bf8f" opacity="0.82"/>
<rect x="226.09" y="250.40" width="3.95" height="1.0" fill="#52bf8f" opacity="0.82"/>
<rect x="230.04" y="250.40" width="1.57" height="1.0" fill="#52bf8f" opacity="0.82"/>
<rect x="231.61" y="250.40" width="3.19" height="1.0" fill="#52bf8f" opacity="0.82"/>
<rect x="235.30" y="250.40" width="2.62" height="1.0" fill="#52bf8f" opacity="0.82"/>
<rect x="237.92" y="250.40" width="0.75" height="1.0" fill="#52bf8f" opacity="0.82"/>
<rect x="215.49" y="251.70" width="4.65" height="1.0" fill="#52bf8f" opacity="0.82"/>
<rect x="220.14" y="251.70" width="4.28" height="1.0" fill="#52bf8f" opacity="0.82"/>
<rect x="224.92" y="251.70" width="2.73" height="1.0" fill="#52bf8f" opacity="0.82"/>
<rect x="228.45" y="251.70" width="4.65" height="1.0" fill="#52bf8f" opacity="0.82"/>
<rect x="233.90" y="251.70" width="3.20" height="1.0" fill="#52bf8f" opacity="0.82"/>
<rect x="215.79" y="253.00" width="3.50" height="1.0" fill="#52bf8f" opacity="0.82"/>
<rect x="220.10" y="253.00" width="2.83" height="1.0" fill="#52bf8f" opacity="0.82"/>
<rect x="222.92" y="253.00" width="3.63" height="1.0" fill="#52bf8f" opacity="0.82"/>
<rect x="226.55" y="253.00" width="1.82" height="1.0" fill="#52bf8f" opacity="0.82"/>
<rect x="228.37" y="253.00" width="4.98" height="1.0" fill="#52bf8f" opacity="0.82"/>
<rect x="234.15" y="253.00" width="2.66" height="1.0" fill="#52bf8f" opacity="0.82"/>
<rect x="216.39" y="254.30" width="3.93" height="1.0" fill="#52bf8f" opacity="0.82"/>
<rect x="221.12" y="254.30" width="3.04" height="1.0" fill="#52bf8f" opacity="0.82"/>
<rect x="224.16" y="254.30" width="3.32" height="1.0" fill="#52bf8f" opacity="0.82"/>
<rect x="227.47" y="254.30" width="2.59" height="1.0" fill="#52bf8f" opacity="0.82"/>
<rect x="230.06" y="254.30" width="3.18" height="1.0" fill="#52bf8f" opacity="0.82"/>
<rect x="233.24" y="254.30" width="2.97" height="1.0" fill="#52bf8f" opacity="0.82"/>
<rect x="218.79" y="255.60" width="3.65" height="1.0" fill="#52bf8f" opacity="0.82"/>
<rect x="223.24" y="255.60" width="2.40" height="1.0" fill="#52bf8f" opacity="0.82"/>
<rect x="225.63" y="255.60" width="2.79" height="1.0" fill="#52bf8f" opacity="0.82"/>
<rect x="228.42" y="255.60" width="3.87" height="1.0" fill="#52bf8f" opacity="0.82"/>
<rect x="232.29" y="255.60" width="1.52" height="1.0" fill="#52bf8f" opacity="0.82"/>
<rect x="219.02" y="256.90" width="3.05" height="1.0" fill="#52bf8f" opacity="0.82"/>
<rect x="222.07" y="256.90" width="2.64" height="1.0" fill="#52bf8f" opacity="0.82"/>
<rect x="225.21" y="256.90" width="2.19" height="1.0" fill="#52bf8f" opacity="0.82"/>
<rect x="228.21" y="256.90" width="4.31" height="1.0" fill="#52bf8f" opacity="0.82"/>
<rect x="232.52" y="256.90" width="1.06" height="1.0" fill="#52bf8f" opacity="0.82"/>
<rect x="221.04" y="258.20" width="4.72" height="1.0" fill="#52bf8f" opacity="0.82"/>
<rect x="225.76" y="258.20" width="1.98" height="1.0" fill="#52bf8f" opacity="0.82"/>
<rect x="228.54" y="258.20" width="2.73" height="1.0" fill="#52bf8f" opacity="0.82"/>
<rect x="231.27" y="258.20" width="0.30" height="1.0" fill="#52bf8f" opacity="0.82"/>
<rect x="220.22" y="259.50" width="1.89" height="1.0" fill="#52bf8f" opacity="0.82"/>
<rect x="222.91" y="259.50" width="2.46" height="1.0" fill="#52bf8f" opacity="0.82"/>
<rect x="225.37" y="259.50" width="4.41" height="1.0" fill="#52bf8f" opacity="0.82"/>
<rect x="230.58" y="259.50" width="1.80" height="1.0" fill="#52bf8f" opacity="0.82"/>
<rect x="221.38" y="260.80" width="4.01" height="1.0" fill="#52bf8f" opacity="0.82"/>
<rect x="226.19" y="260.80" width="2.62" height="1.0" fill="#52bf8f" opacity="0.82"/>
<rect x="228.81" y="260.80" width="2.41" height="1.0" fill="#52bf8f" opacity="0.82"/>
<rect x="222.17" y="262.10" width="2.48" height="1.0" fill="#52bf8f" opacity="0.82"/>
<rect x="225.15" y="262.10" width="2.58" height="1.0" fill="#52bf8f" opacity="0.82"/>
<rect x="227.73" y="262.10" width="2.70" height="1.0" fill="#52bf8f" opacity="0.82"/>
<rect x="223.29" y="263.40" width="1.59" height="1.0" fill="#52bf8f" opacity="0.82"/>
<rect x="225.37" y="263.40" width="2.33" height="1.0" fill="#52bf8f" opacity="0.82"/>
<rect x="227.70" y="263.40" width="1.61" height="1.0" fill="#52bf8f" opacity="0.82"/>
<rect x="224.02" y="264.70" width="3.70" height="1.0" fill="#52bf8f" opacity="0.82"/>
<rect x="228.23" y="264.70" width="0.35" height="1.0" fill="#52bf8f" opacity="0.82"/>
<rect x="224.92" y="266.00" width="2.75" height="1.0" fill="#52bf8f" opacity="0.82"/>
<rect x="225.36" y="268.65" width="1.0" height="0.9" fill="#52bf8f" opacity="0.9"/>
<rect x="226.51" y="269.95" width="1.0" height="0.9" fill="#52bf8f" opacity="0.9"/>
<rect x="245.74" y="242.55" width="1.0" height="0.9" fill="#3f86c4" opacity="0.9"/>
<rect x="245.80" y="243.85" width="1.0" height="0.9" fill="#3f86c4" opacity="0.9"/>
<rect x="245.30" y="245.10" width="2.16" height="1.0" fill="#3f86c4" opacity="0.82"/>
<rect x="244.23" y="246.40" width="3.49" height="1.0" fill="#3f86c4" opacity="0.82"/>
<rect x="248.22" y="246.40" width="0.31" height="1.0" fill="#3f86c4" opacity="0.82"/>
<rect x="243.69" y="247.70" width="4.53" height="1.0" fill="#3f86c4" opacity="0.82"/>
<rect x="248.22" y="247.70" width="0.85" height="1.0" fill="#3f86c4" opacity="0.82"/>
<rect x="241.11" y="249.00" width="4.92" height="1.0" fill="#3f86c4" opacity="0.82"/>
<rect x="246.53" y="249.00" width="2.42" height="1.0" fill="#3f86c4" opacity="0.82"/>
<rect x="248.94" y="249.00" width="2.71" height="1.0" fill="#3f86c4" opacity="0.82"/>
<rect x="242.18" y="250.30" width="2.70" height="1.0" fill="#3f86c4" opacity="0.82"/>
<rect x="245.67" y="250.30" width="4.19" height="1.0" fill="#3f86c4" opacity="0.82"/>
<rect x="238.79" y="251.60" width="2.26" height="1.0" fill="#3f86c4" opacity="0.82"/>
<rect x="241.05" y="251.60" width="3.00" height="1.0" fill="#3f86c4" opacity="0.82"/>
<rect x="244.06" y="251.60" width="2.11" height="1.0" fill="#3f86c4" opacity="0.82"/>
<rect x="246.66" y="251.60" width="3.90" height="1.0" fill="#3f86c4" opacity="0.82"/>
<rect x="250.56" y="251.60" width="3.15" height="1.0" fill="#3f86c4" opacity="0.82"/>
<rect x="237.48" y="252.90" width="3.22" height="1.0" fill="#3f86c4" opacity="0.82"/>
<rect x="240.71" y="252.90" width="4.15" height="1.0" fill="#3f86c4" opacity="0.82"/>
<rect x="245.66" y="252.90" width="3.34" height="1.0" fill="#3f86c4" opacity="0.82"/>
<rect x="249.50" y="252.90" width="4.41" height="1.0" fill="#3f86c4" opacity="0.82"/>
<rect x="253.91" y="252.90" width="1.36" height="1.0" fill="#3f86c4" opacity="0.82"/>
<rect x="238.70" y="254.20" width="2.83" height="1.0" fill="#3f86c4" opacity="0.82"/>
<rect x="241.54" y="254.20" width="2.57" height="1.0" fill="#3f86c4" opacity="0.82"/>
<rect x="244.10" y="254.20" width="4.89" height="1.0" fill="#3f86c4" opacity="0.82"/>
<rect x="249.49" y="254.20" width="3.51" height="1.0" fill="#3f86c4" opacity="0.82"/>
<rect x="253.00" y="254.20" width="1.06" height="1.0" fill="#3f86c4" opacity="0.82"/>
<rect x="236.94" y="255.50" width="3.62" height="1.0" fill="#3f86c4" opacity="0.82"/>
<rect x="240.56" y="255.50" width="3.38" height="1.0" fill="#3f86c4" opacity="0.82"/>
<rect x="243.94" y="255.50" width="3.31" height="1.0" fill="#3f86c4" opacity="0.82"/>
<rect x="248.05" y="255.50" width="3.40" height="1.0" fill="#3f86c4" opacity="0.82"/>
<rect x="251.45" y="255.50" width="3.22" height="1.0" fill="#3f86c4" opacity="0.82"/>
<rect x="254.67" y="255.50" width="1.15" height="1.0" fill="#3f86c4" opacity="0.82"/>
<rect x="236.35" y="256.80" width="4.85" height="1.0" fill="#3f86c4" opacity="0.82"/>
<rect x="242.00" y="256.80" width="2.44" height="1.0" fill="#3f86c4" opacity="0.82"/>
<rect x="245.24" y="256.80" width="3.23" height="1.0" fill="#3f86c4" opacity="0.82"/>
<rect x="248.97" y="256.80" width="3.02" height="1.0" fill="#3f86c4" opacity="0.82"/>
<rect x="252.78" y="256.80" width="3.34" height="1.0" fill="#3f86c4" opacity="0.82"/>
<rect x="256.12" y="256.80" width="0.29" height="1.0" fill="#3f86c4" opacity="0.82"/>
<rect x="232.67" y="258.10" width="1.95" height="1.0" fill="#3f86c4" opacity="0.82"/>
<rect x="234.62" y="258.10" width="1.62" height="1.0" fill="#3f86c4" opacity="0.82"/>
<rect x="236.25" y="258.10" width="2.30" height="1.0" fill="#3f86c4" opacity="0.82"/>
<rect x="239.04" y="258.10" width="2.63" height="1.0" fill="#3f86c4" opacity="0.82"/>
<rect x="242.17" y="258.10" width="2.36" height="1.0" fill="#3f86c4" opacity="0.82"/>
<rect x="245.33" y="258.10" width="1.87" height="1.0" fill="#3f86c4" opacity="0.82"/>
<rect x="247.19" y="258.10" width="4.48" height="1.0" fill="#3f86c4" opacity="0.82"/>
<rect x="252.18" y="258.10" width="4.01" height="1.0" fill="#3f86c4" opacity="0.82"/>
<rect x="256.99" y="258.10" width="1.58" height="1.0" fill="#3f86c4" opacity="0.82"/>
<rect x="259.37" y="258.10" width="0.72" height="1.0" fill="#3f86c4" opacity="0.82"/>
<rect x="234.99" y="259.40" width="4.52" height="1.0" fill="#3f86c4" opacity="0.82"/>
<rect x="239.51" y="259.40" width="3.35" height="1.0" fill="#3f86c4" opacity="0.82"/>
<rect x="242.87" y="259.40" width="2.31" height="1.0" fill="#3f86c4" opacity="0.82"/>
<rect x="245.68" y="259.40" width="4.66" height="1.0" fill="#3f86c4" opacity="0.82"/>
<rect x="250.84" y="259.40" width="3.61" height="1.0" fill="#3f86c4" opacity="0.82"/>
<rect x="254.45" y="259.40" width="2.26" height="1.0" fill="#3f86c4" opacity="0.82"/>
<rect x="256.72" y="259.40" width="1.05" height="1.0" fill="#3f86c4" opacity="0.82"/>
<rect x="234.19" y="260.70" width="1.96" height="1.0" fill="#3f86c4" opacity="0.82"/>
<rect x="236.15" y="260.70" width="2.41" height="1.0" fill="#3f86c4" opacity="0.82"/>
<rect x="238.56" y="260.70" width="3.02" height="1.0" fill="#3f86c4" opacity="0.82"/>
<rect x="242.38" y="260.70" width="3.40" height="1.0" fill="#3f86c4" opacity="0.82"/>
<rect x="245.78" y="260.70" width="2.20" height="1.0" fill="#3f86c4" opacity="0.82"/>
<rect x="247.99" y="260.70" width="1.84" height="1.0" fill="#3f86c4" opacity="0.82"/>
<rect x="250.32" y="260.70" width="4.69" height="1.0" fill="#3f86c4" opacity="0.82"/>
<rect x="255.51" y="260.70" width="1.90" height="1.0" fill="#3f86c4" opacity="0.82"/>
<rect x="257.92" y="260.70" width="0.65" height="1.0" fill="#3f86c4" opacity="0.82"/>
<rect x="235.57" y="262.00" width="3.19" height="1.0" fill="#3f86c4" opacity="0.82"/>
<rect x="238.76" y="262.00" width="1.63" height="1.0" fill="#3f86c4" opacity="0.82"/>
<rect x="241.19" y="262.00" width="2.01" height="1.0" fill="#3f86c4" opacity="0.82"/>
<rect x="243.20" y="262.00" width="1.90" height="1.0" fill="#3f86c4" opacity="0.82"/>
<rect x="245.10" y="262.00" width="4.44" height="1.0" fill="#3f86c4" opacity="0.82"/>
<rect x="250.04" y="262.00" width="4.74" height="1.0" fill="#3f86c4" opacity="0.82"/>
<rect x="254.79" y="262.00" width="2.41" height="1.0" fill="#3f86c4" opacity="0.82"/>
<rect x="235.95" y="263.30" width="3.12" height="1.0" fill="#3f86c4" opacity="0.82"/>
<rect x="239.06" y="263.30" width="2.64" height="1.0" fill="#3f86c4" opacity="0.82"/>
<rect x="242.51" y="263.30" width="2.99" height="1.0" fill="#3f86c4" opacity="0.82"/>
<rect x="246.00" y="263.30" width="3.01" height="1.0" fill="#3f86c4" opacity="0.82"/>
<rect x="249.51" y="263.30" width="1.55" height="1.0" fill="#3f86c4" opacity="0.82"/>
<rect x="251.05" y="263.30" width="4.45" height="1.0" fill="#3f86c4" opacity="0.82"/>
<rect x="255.51" y="263.30" width="1.31" height="1.0" fill="#3f86c4" opacity="0.82"/>
<rect x="237.73" y="264.60" width="2.92" height="1.0" fill="#3f86c4" opacity="0.82"/>
<rect x="240.65" y="264.60" width="3.62" height="1.0" fill="#3f86c4" opacity="0.82"/>
<rect x="244.27" y="264.60" width="3.29" height="1.0" fill="#3f86c4" opacity="0.82"/>
<rect x="247.56" y="264.60" width="2.63" height="1.0" fill="#3f86c4" opacity="0.82"/>
<rect x="250.20" y="264.60" width="4.31" height="1.0" fill="#3f86c4" opacity="0.82"/>
<rect x="239.22" y="265.90" width="2.17" height="1.0" fill="#3f86c4" opacity="0.82"/>
<rect x="241.89" y="265.90" width="4.32" height="1.0" fill="#3f86c4" opacity="0.82"/>
<rect x="246.71" y="265.90" width="2.48" height="1.0" fill="#3f86c4" opacity="0.82"/>
<rect x="249.18" y="265.90" width="4.11" height="1.0" fill="#3f86c4" opacity="0.82"/>
<rect x="253.29" y="265.90" width="0.25" height="1.0" fill="#3f86c4" opacity="0.82"/>
<rect x="241.32" y="267.20" width="2.65" height="1.0" fill="#3f86c4" opacity="0.82"/>
<rect x="244.47" y="267.20" width="4.19" height="1.0" fill="#3f86c4" opacity="0.82"/>
<rect x="248.66" y="267.20" width="2.78" height="1.0" fill="#3f86c4" opacity="0.82"/>
<rect x="242.18" y="268.50" width="2.70" height="1.0" fill="#3f86c4" opacity="0.82"/>
<rect x="245.67" y="268.50" width="1.85" height="1.0" fill="#3f86c4" opacity="0.82"/>
<rect x="248.03" y="268.50" width="2.55" height="1.0" fill="#3f86c4" opacity="0.82"/>
<rect x="242.54" y="269.80" width="4.81" height="1.0" fill="#3f86c4" opacity="0.82"/>
<rect x="247.84" y="269.80" width="2.38" height="1.0" fill="#3f86c4" opacity="0.82"/>
<rect x="242.73" y="271.10" width="3.37" height="1.0" fill="#3f86c4" opacity="0.82"/>
<rect x="246.90" y="271.10" width="3.13" height="1.0" fill="#3f86c4" opacity="0.82"/>
<rect x="243.52" y="272.40" width="3.95" height="1.0" fill="#3f86c4" opacity="0.82"/>
<rect x="248.28" y="272.40" width="0.96" height="1.0" fill="#3f86c4" opacity="0.82"/>
<rect x="244.87" y="273.70" width="1.88" height="1.0" fill="#3f86c4" opacity="0.82"/>
<rect x="246.75" y="273.70" width="1.14" height="1.0" fill="#3f86c4" opacity="0.82"/>
<rect x="245.49" y="276.35" width="1.0" height="0.9" fill="#3f86c4" opacity="0.9"/>
<rect x="245.94" y="277.65" width="1.0" height="0.9" fill="#3f86c4" opacity="0.9"/>
<rect x="246.43" y="278.95" width="1.0" height="0.9" fill="#3f86c4" opacity="0.9"/>
<rect x="266.19" y="244.55" width="1.0" height="0.9" fill="#62b6e6" opacity="0.9"/>
<rect x="264.35" y="247.10" width="2.85" height="1.0" fill="#62b6e6" opacity="0.82"/>
<rect x="267.20" y="247.10" width="1.37" height="1.0" fill="#62b6e6" opacity="0.82"/>
<rect x="263.17" y="248.40" width="3.40" height="1.0" fill="#62b6e6" opacity="0.82"/>
<rect x="266.57" y="248.40" width="3.00" height="1.0" fill="#62b6e6" opacity="0.82"/>
<rect x="262.70" y="249.70" width="3.34" height="1.0" fill="#62b6e6" opacity="0.82"/>
<rect x="266.54" y="249.70" width="2.78" height="1.0" fill="#62b6e6" opacity="0.82"/>
<rect x="269.82" y="249.70" width="0.40" height="1.0" fill="#62b6e6" opacity="0.82"/>
<rect x="261.33" y="251.00" width="2.49" height="1.0" fill="#62b6e6" opacity="0.82"/>
<rect x="264.33" y="251.00" width="1.59" height="1.0" fill="#62b6e6" opacity="0.82"/>
<rect x="265.92" y="251.00" width="3.55" height="1.0" fill="#62b6e6" opacity="0.82"/>
<rect x="269.47" y="251.00" width="2.11" height="1.0" fill="#62b6e6" opacity="0.82"/>
<rect x="261.64" y="252.30" width="2.60" height="1.0" fill="#62b6e6" opacity="0.82"/>
<rect x="265.04" y="252.30" width="1.68" height="1.0" fill="#62b6e6" opacity="0.82"/>
<rect x="267.22" y="252.30" width="1.76" height="1.0" fill="#62b6e6" opacity="0.82"/>
<rect x="268.98" y="252.30" width="2.30" height="1.0" fill="#62b6e6" opacity="0.82"/>
<rect x="260.13" y="253.60" width="4.14" height="1.0" fill="#62b6e6" opacity="0.82"/>
<rect x="264.28" y="253.60" width="3.33" height="1.0" fill="#62b6e6" opacity="0.82"/>
<rect x="268.41" y="253.60" width="2.01" height="1.0" fill="#62b6e6" opacity="0.82"/>
<rect x="270.41" y="253.60" width="2.38" height="1.0" fill="#62b6e6" opacity="0.82"/>
<rect x="259.93" y="254.90" width="2.96" height="1.0" fill="#62b6e6" opacity="0.82"/>
<rect x="262.89" y="254.90" width="2.21" height="1.0" fill="#62b6e6" opacity="0.82"/>
<rect x="265.11" y="254.90" width="2.75" height="1.0" fill="#62b6e6" opacity="0.82"/>
<rect x="267.85" y="254.90" width="1.94" height="1.0" fill="#62b6e6" opacity="0.82"/>
<rect x="270.59" y="254.90" width="1.99" height="1.0" fill="#62b6e6" opacity="0.82"/>
<rect x="257.34" y="256.20" width="2.42" height="1.0" fill="#62b6e6" opacity="0.82"/>
<rect x="260.56" y="256.20" width="2.77" height="1.0" fill="#62b6e6" opacity="0.82"/>
<rect x="263.33" y="256.20" width="4.83" height="1.0" fill="#62b6e6" opacity="0.82"/>
<rect x="268.17" y="256.20" width="2.33" height="1.0" fill="#62b6e6" opacity="0.82"/>
<rect x="270.50" y="256.20" width="3.26" height="1.0" fill="#62b6e6" opacity="0.82"/>
<rect x="274.26" y="256.20" width="1.32" height="1.0" fill="#62b6e6" opacity="0.82"/>
<rect x="257.15" y="257.50" width="3.63" height="1.0" fill="#62b6e6" opacity="0.82"/>
<rect x="260.78" y="257.50" width="3.72" height="1.0" fill="#62b6e6" opacity="0.82"/>
<rect x="264.50" y="257.50" width="2.16" height="1.0" fill="#62b6e6" opacity="0.82"/>
<rect x="266.66" y="257.50" width="3.26" height="1.0" fill="#62b6e6" opacity="0.82"/>
<rect x="269.92" y="257.50" width="4.58" height="1.0" fill="#62b6e6" opacity="0.82"/>
<rect x="274.50" y="257.50" width="1.28" height="1.0" fill="#62b6e6" opacity="0.82"/>
<rect x="256.57" y="258.80" width="2.99" height="1.0" fill="#62b6e6" opacity="0.82"/>
<rect x="259.56" y="258.80" width="1.86" height="1.0" fill="#62b6e6" opacity="0.82"/>
<rect x="261.92" y="258.80" width="1.75" height="1.0" fill="#62b6e6" opacity="0.82"/>
<rect x="263.67" y="258.80" width="4.70" height="1.0" fill="#62b6e6" opacity="0.82"/>
<rect x="268.37" y="258.80" width="3.43" height="1.0" fill="#62b6e6" opacity="0.82"/>
<rect x="272.30" y="258.80" width="3.19" height="1.0" fill="#62b6e6" opacity="0.82"/>
<rect x="275.99" y="258.80" width="0.36" height="1.0" fill="#62b6e6" opacity="0.82"/>
<rect x="256.16" y="260.10" width="1.97" height="1.0" fill="#62b6e6" opacity="0.82"/>
<rect x="258.13" y="260.10" width="4.31" height="1.0" fill="#62b6e6" opacity="0.82"/>
<rect x="263.24" y="260.10" width="4.33" height="1.0" fill="#62b6e6" opacity="0.82"/>
<rect x="267.57" y="260.10" width="3.06" height="1.0" fill="#62b6e6" opacity="0.82"/>
<rect x="271.13" y="260.10" width="2.87" height="1.0" fill="#62b6e6" opacity="0.82"/>
<rect x="273.99" y="260.10" width="2.76" height="1.0" fill="#62b6e6" opacity="0.82"/>
<rect x="257.79" y="261.40" width="4.16" height="1.0" fill="#62b6e6" opacity="0.82"/>
<rect x="261.95" y="261.40" width="3.00" height="1.0" fill="#62b6e6" opacity="0.82"/>
<rect x="265.44" y="261.40" width="3.53" height="1.0" fill="#62b6e6" opacity="0.82"/>
<rect x="269.77" y="261.40" width="4.56" height="1.0" fill="#62b6e6" opacity="0.82"/>
<rect x="274.34" y="261.40" width="0.79" height="1.0" fill="#62b6e6" opacity="0.82"/>
<rect x="257.33" y="262.70" width="3.20" height="1.0" fill="#62b6e6" opacity="0.82"/>
<rect x="261.33" y="262.70" width="2.55" height="1.0" fill="#62b6e6" opacity="0.82"/>
<rect x="263.88" y="262.70" width="1.77" height="1.0" fill="#62b6e6" opacity="0.82"/>
<rect x="265.64" y="262.70" width="4.69" height="1.0" fill="#62b6e6" opacity="0.82"/>
<rect x="270.33" y="262.70" width="3.93" height="1.0" fill="#62b6e6" opacity="0.82"/>
<rect x="275.06" y="262.70" width="0.52" height="1.0" fill="#62b6e6" opacity="0.82"/>
<rect x="259.14" y="264.00" width="2.00" height="1.0" fill="#62b6e6" opacity="0.82"/>
<rect x="261.64" y="264.00" width="3.80" height="1.0" fill="#62b6e6" opacity="0.82"/>
<rect x="265.94" y="264.00" width="2.78" height="1.0" fill="#62b6e6" opacity="0.82"/>
<rect x="268.72" y="264.00" width="2.63" height="1.0" fill="#62b6e6" opacity="0.82"/>
<rect x="272.15" y="264.00" width="1.63" height="1.0" fill="#62b6e6" opacity="0.82"/>
<rect x="259.27" y="265.30" width="4.31" height="1.0" fill="#62b6e6" opacity="0.82"/>
<rect x="264.08" y="265.30" width="3.10" height="1.0" fill="#62b6e6" opacity="0.82"/>
<rect x="267.18" y="265.30" width="2.90" height="1.0" fill="#62b6e6" opacity="0.82"/>
<rect x="270.08" y="265.30" width="1.80" height="1.0" fill="#62b6e6" opacity="0.82"/>
<rect x="272.37" y="265.30" width="1.28" height="1.0" fill="#62b6e6" opacity="0.82"/>
<rect x="259.52" y="266.60" width="4.29" height="1.0" fill="#62b6e6" opacity="0.82"/>
<rect x="264.31" y="266.60" width="4.29" height="1.0" fill="#62b6e6" opacity="0.82"/>
<rect x="268.60" y="266.60" width="4.43" height="1.0" fill="#62b6e6" opacity="0.82"/>
<rect x="273.03" y="266.60" width="0.37" height="1.0" fill="#62b6e6" opacity="0.82"/>
<rect x="259.47" y="267.90" width="2.49" height="1.0" fill="#62b6e6" opacity="0.82"/>
<rect x="261.96" y="267.90" width="2.27" height="1.0" fill="#62b6e6" opacity="0.82"/>
<rect x="264.23" y="267.90" width="3.40" height="1.0" fill="#62b6e6" opacity="0.82"/>
<rect x="268.14" y="267.90" width="4.88" height="1.0" fill="#62b6e6" opacity="0.82"/>
<rect x="262.29" y="269.20" width="3.41" height="1.0" fill="#62b6e6" opacity="0.82"/>
<rect x="265.70" y="269.20" width="2.67" height="1.0" fill="#62b6e6" opacity="0.82"/>
<rect x="268.87" y="269.20" width="1.76" height="1.0" fill="#62b6e6" opacity="0.82"/>
<rect x="262.83" y="270.50" width="3.72" height="1.0" fill="#62b6e6" opacity="0.82"/>
<rect x="266.55" y="270.50" width="1.84" height="1.0" fill="#62b6e6" opacity="0.82"/>
<rect x="269.19" y="270.50" width="0.90" height="1.0" fill="#62b6e6" opacity="0.82"/>
<rect x="262.72" y="271.80" width="4.68" height="1.0" fill="#62b6e6" opacity="0.82"/>
<rect x="267.90" y="271.80" width="2.30" height="1.0" fill="#62b6e6" opacity="0.82"/>
<rect x="263.64" y="273.10" width="4.33" height="1.0" fill="#62b6e6" opacity="0.82"/>
<rect x="268.46" y="273.10" width="0.82" height="1.0" fill="#62b6e6" opacity="0.82"/>
<rect x="264.17" y="274.40" width="4.32" height="1.0" fill="#62b6e6" opacity="0.82"/>
<rect x="268.49" y="274.40" width="0.26" height="1.0" fill="#62b6e6" opacity="0.82"/>
<rect x="264.95" y="275.70" width="3.01" height="1.0" fill="#62b6e6" opacity="0.82"/>
<rect x="265.83" y="282.25" width="1.0" height="0.9" fill="#62b6e6" opacity="0.9"/>
<rect x="265.43" y="284.85" width="1.0" height="0.9" fill="#62b6e6" opacity="0.9"/>
<rect x="265.63" y="286.15" width="1.0" height="0.9" fill="#62b6e6" opacity="0.9"/>
<rect x="285.73" y="241.75" width="1.0" height="0.9" fill="#dc8cba" opacity="0.9"/>
<rect x="285.34" y="244.35" width="1.0" height="0.9" fill="#dc8cba" opacity="0.9"/>
<rect x="285.47" y="245.60" width="2.13" height="1.0" fill="#dc8cba" opacity="0.82"/>
<rect x="284.74" y="246.90" width="2.19" height="1.0" fill="#dc8cba" opacity="0.82"/>
<rect x="287.43" y="246.90" width="0.91" height="1.0" fill="#dc8cba" opacity="0.82"/>
<rect x="283.55" y="248.20" width="3.15" height="1.0" fill="#dc8cba" opacity="0.82"/>
<rect x="286.70" y="248.20" width="2.82" height="1.0" fill="#dc8cba" opacity="0.82"/>
<rect x="282.97" y="249.50" width="4.69" height="1.0" fill="#dc8cba" opacity="0.82"/>
<rect x="288.16" y="249.50" width="1.96" height="1.0" fill="#dc8cba" opacity="0.82"/>
<rect x="281.16" y="250.80" width="3.20" height="1.0" fill="#dc8cba" opacity="0.82"/>
<rect x="285.16" y="250.80" width="4.70" height="1.0" fill="#dc8cba" opacity="0.82"/>
<rect x="290.36" y="250.80" width="1.55" height="1.0" fill="#dc8cba" opacity="0.82"/>
<rect x="281.08" y="252.10" width="2.27" height="1.0" fill="#dc8cba" opacity="0.82"/>
<rect x="283.35" y="252.10" width="2.26" height="1.0" fill="#dc8cba" opacity="0.82"/>
<rect x="285.61" y="252.10" width="4.30" height="1.0" fill="#dc8cba" opacity="0.82"/>
<rect x="290.72" y="252.10" width="1.29" height="1.0" fill="#dc8cba" opacity="0.82"/>
<rect x="279.30" y="253.40" width="1.70" height="1.0" fill="#dc8cba" opacity="0.82"/>
<rect x="281.01" y="253.40" width="4.62" height="1.0" fill="#dc8cba" opacity="0.82"/>
<rect x="286.43" y="253.40" width="4.67" height="1.0" fill="#dc8cba" opacity="0.82"/>
<rect x="291.90" y="253.40" width="1.88" height="1.0" fill="#dc8cba" opacity="0.82"/>
<rect x="278.91" y="254.70" width="2.05" height="1.0" fill="#dc8cba" opacity="0.82"/>
<rect x="280.96" y="254.70" width="4.20" height="1.0" fill="#dc8cba" opacity="0.82"/>
<rect x="285.16" y="254.70" width="2.41" height="1.0" fill="#dc8cba" opacity="0.82"/>
<rect x="287.57" y="254.70" width="3.73" height="1.0" fill="#dc8cba" opacity="0.82"/>
<rect x="291.80" y="254.70" width="2.37" height="1.0" fill="#dc8cba" opacity="0.82"/>
<rect x="279.69" y="256.00" width="4.20" height="1.0" fill="#dc8cba" opacity="0.82"/>
<rect x="283.89" y="256.00" width="2.22" height="1.0" fill="#dc8cba" opacity="0.82"/>
<rect x="286.10" y="256.00" width="4.38" height="1.0" fill="#dc8cba" opacity="0.82"/>
<rect x="290.48" y="256.00" width="2.73" height="1.0" fill="#dc8cba" opacity="0.82"/>
<rect x="293.21" y="256.00" width="0.18" height="1.0" fill="#dc8cba" opacity="0.82"/>
<rect x="279.23" y="257.30" width="4.12" height="1.0" fill="#dc8cba" opacity="0.82"/>
<rect x="283.85" y="257.30" width="1.57" height="1.0" fill="#dc8cba" opacity="0.82"/>
<rect x="285.42" y="257.30" width="2.96" height="1.0" fill="#dc8cba" opacity="0.82"/>
<rect x="288.38" y="257.30" width="4.23" height="1.0" fill="#dc8cba" opacity="0.82"/>
<rect x="293.41" y="257.30" width="0.44" height="1.0" fill="#dc8cba" opacity="0.82"/>
<rect x="276.49" y="258.60" width="2.05" height="1.0" fill="#dc8cba" opacity="0.82"/>
<rect x="279.05" y="258.60" width="2.61" height="1.0" fill="#dc8cba" opacity="0.82"/>
<rect x="282.45" y="258.60" width="1.77" height="1.0" fill="#dc8cba" opacity="0.82"/>
<rect x="284.72" y="258.60" width="4.99" height="1.0" fill="#dc8cba" opacity="0.82"/>
<rect x="289.71" y="258.60" width="2.76" height="1.0" fill="#dc8cba" opacity="0.82"/>
<rect x="292.47" y="258.60" width="1.87" height="1.0" fill="#dc8cba" opacity="0.82"/>
<rect x="295.14" y="258.60" width="1.45" height="1.0" fill="#dc8cba" opacity="0.82"/>
<rect x="274.96" y="259.90" width="1.54" height="1.0" fill="#dc8cba" opacity="0.82"/>
<rect x="277.31" y="259.90" width="3.99" height="1.0" fill="#dc8cba" opacity="0.82"/>
<rect x="282.10" y="259.90" width="2.33" height="1.0" fill="#dc8cba" opacity="0.82"/>
<rect x="284.43" y="259.90" width="3.10" height="1.0" fill="#dc8cba" opacity="0.82"/>
<rect x="287.53" y="259.90" width="4.50" height="1.0" fill="#dc8cba" opacity="0.82"/>
<rect x="292.03" y="259.90" width="4.66" height="1.0" fill="#dc8cba" opacity="0.82"/>
<rect x="296.68" y="259.90" width="1.43" height="1.0" fill="#dc8cba" opacity="0.82"/>
<rect x="273.56" y="261.20" width="4.12" height="1.0" fill="#dc8cba" opacity="0.82"/>
<rect x="278.18" y="261.20" width="4.14" height="1.0" fill="#dc8cba" opacity="0.82"/>
<rect x="282.33" y="261.20" width="2.40" height="1.0" fill="#dc8cba" opacity="0.82"/>
<rect x="284.72" y="261.20" width="2.82" height="1.0" fill="#dc8cba" opacity="0.82"/>
<rect x="287.54" y="261.20" width="2.65" height="1.0" fill="#dc8cba" opacity="0.82"/>
<rect x="290.69" y="261.20" width="3.47" height="1.0" fill="#dc8cba" opacity="0.82"/>
<rect x="294.66" y="261.20" width="3.06" height="1.0" fill="#dc8cba" opacity="0.82"/>
<rect x="298.53" y="261.20" width="0.99" height="1.0" fill="#dc8cba" opacity="0.82"/>
<rect x="275.94" y="262.50" width="1.96" height="1.0" fill="#dc8cba" opacity="0.82"/>
<rect x="277.90" y="262.50" width="2.13" height="1.0" fill="#dc8cba" opacity="0.82"/>
<rect x="280.83" y="262.50" width="1.63" height="1.0" fill="#dc8cba" opacity="0.82"/>
<rect x="283.26" y="262.50" width="3.57" height="1.0" fill="#dc8cba" opacity="0.82"/>
<rect x="286.83" y="262.50" width="1.85" height="1.0" fill="#dc8cba" opacity="0.82"/>
<rect x="288.68" y="262.50" width="2.05" height="1.0" fill="#dc8cba" opacity="0.82"/>
<rect x="290.73" y="262.50" width="3.02" height="1.0" fill="#dc8cba" opacity="0.82"/>
<rect x="293.75" y="262.50" width="2.70" height="1.0" fill="#dc8cba" opacity="0.82"/>
<rect x="275.45" y="263.80" width="1.99" height="1.0" fill="#dc8cba" opacity="0.82"/>
<rect x="277.44" y="263.80" width="4.18" height="1.0" fill="#dc8cba" opacity="0.82"/>
<rect x="282.42" y="263.80" width="3.19" height="1.0" fill="#dc8cba" opacity="0.82"/>
<rect x="286.41" y="263.80" width="3.68" height="1.0" fill="#dc8cba" opacity="0.82"/>
<rect x="290.89" y="263.80" width="3.65" height="1.0" fill="#dc8cba" opacity="0.82"/>
<rect x="295.04" y="263.80" width="2.60" height="1.0" fill="#dc8cba" opacity="0.82"/>
<rect x="277.41" y="265.10" width="3.63" height="1.0" fill="#dc8cba" opacity="0.82"/>
<rect x="281.04" y="265.10" width="2.41" height="1.0" fill="#dc8cba" opacity="0.82"/>
<rect x="283.45" y="265.10" width="2.70" height="1.0" fill="#dc8cba" opacity="0.82"/>
<rect x="286.95" y="265.10" width="1.87" height="1.0" fill="#dc8cba" opacity="0.82"/>
<rect x="289.62" y="265.10" width="2.22" height="1.0" fill="#dc8cba" opacity="0.82"/>
<rect x="292.34" y="265.10" width="3.33" height="1.0" fill="#dc8cba" opacity="0.82"/>
<rect x="278.41" y="266.40" width="2.05" height="1.0" fill="#dc8cba" opacity="0.82"/>
<rect x="280.96" y="266.40" width="3.42" height="1.0" fill="#dc8cba" opacity="0.82"/>
<rect x="284.88" y="266.40" width="3.64" height="1.0" fill="#dc8cba" opacity="0.82"/>
<rect x="288.52" y="266.40" width="3.51" height="1.0" fill="#dc8cba" opacity="0.82"/>
<rect x="292.03" y="266.40" width="2.64" height="1.0" fill="#dc8cba" opacity="0.82"/>
<rect x="279.36" y="267.70" width="1.59" height="1.0" fill="#dc8cba" opacity="0.82"/>
<rect x="280.95" y="267.70" width="4.22" height="1.0" fill="#dc8cba" opacity="0.82"/>
<rect x="285.17" y="267.70" width="2.36" height="1.0" fill="#dc8cba" opacity="0.82"/>
<rect x="288.32" y="267.70" width="3.94" height="1.0" fill="#dc8cba" opacity="0.82"/>
<rect x="292.76" y="267.70" width="0.96" height="1.0" fill="#dc8cba" opacity="0.82"/>
<rect x="281.01" y="269.00" width="4.59" height="1.0" fill="#dc8cba" opacity="0.82"/>
<rect x="286.40" y="269.00" width="4.91" height="1.0" fill="#dc8cba" opacity="0.82"/>
<rect x="291.30" y="269.00" width="0.77" height="1.0" fill="#dc8cba" opacity="0.82"/>
<rect x="280.96" y="270.30" width="2.43" height="1.0" fill="#dc8cba" opacity="0.82"/>
<rect x="283.88" y="270.30" width="3.61" height="1.0" fill="#dc8cba" opacity="0.82"/>
<rect x="287.49" y="270.30" width="4.64" height="1.0" fill="#dc8cba" opacity="0.82"/>
<rect x="282.33" y="271.60" width="4.64" height="1.0" fill="#dc8cba" opacity="0.82"/>
<rect x="286.97" y="271.60" width="3.78" height="1.0" fill="#dc8cba" opacity="0.82"/>
<rect x="282.05" y="272.90" width="2.15" height="1.0" fill="#dc8cba" opacity="0.82"/>
<rect x="284.20" y="272.90" width="3.09" height="1.0" fill="#dc8cba" opacity="0.82"/>
<rect x="288.09" y="272.90" width="2.13" height="1.0" fill="#dc8cba" opacity="0.82"/>
<rect x="290.22" y="272.90" width="0.81" height="1.0" fill="#dc8cba" opacity="0.82"/>
<rect x="283.24" y="274.20" width="3.74" height="1.0" fill="#dc8cba" opacity="0.82"/>
<rect x="286.99" y="274.20" width="2.05" height="1.0" fill="#dc8cba" opacity="0.82"/>
<rect x="284.21" y="275.50" width="2.00" height="1.0" fill="#dc8cba" opacity="0.82"/>
<rect x="287.01" y="275.50" width="1.85" height="1.0" fill="#dc8cba" opacity="0.82"/>
<rect x="285.18" y="276.80" width="2.71" height="1.0" fill="#dc8cba" opacity="0.82"/>
<rect x="285.40" y="282.05" width="1.0" height="0.9" fill="#dc8cba" opacity="0.9"/>
<rect x="221.20" y="245.0" width="10.2" height="8.30" fill="none" stroke="#0e8a5e" stroke-width="0.9"/>
<line x1="221.20" y1="248.7" x2="231.40" y2="248.7" stroke="#0e8a5e" stroke-width="1.8"/>
<rect x="241.03" y="256.1" width="10.7" height="8.30" fill="none" stroke="#1a5f9a" stroke-width="0.9"/>
<line x1="241.03" y1="259.3" x2="251.73" y2="259.3" stroke="#1a5f9a" stroke-width="1.8"/>
<rect x="260.91" y="256.1" width="11.1" height="7.40" fill="none" stroke="#3592cc" stroke-width="0.9"/>
<line x1="260.91" y1="259.0" x2="272.01" y2="259.0" stroke="#3592cc" stroke-width="1.8"/>
<rect x="280.99" y="254.3" width="11.1" height="9.20" fill="none" stroke="#c0609a" stroke-width="0.9"/>
<line x1="280.99" y1="258.9" x2="292.09" y2="258.9" stroke="#c0609a" stroke-width="1.8"/>
<rect x="305.39" y="287.20" width="1.2" height="1.0" fill="#e8803a" opacity="0.9"/>
<rect x="306.13" y="288.40" width="1.2" height="1.0" fill="#e8803a" opacity="0.9"/>
<rect x="305.71" y="289.60" width="1.2" height="1.0" fill="#e8803a" opacity="0.9"/>
<rect x="306.27" y="290.80" width="1.2" height="1.0" fill="#e8803a" opacity="0.9"/>
<rect x="306.32" y="292.00" width="1.2" height="1.0" fill="#e8803a" opacity="0.9"/>
<rect x="304.98" y="293.20" width="1.2" height="1.0" fill="#e8803a" opacity="0.9"/>
<rect x="304.85" y="294.40" width="1.2" height="1.0" fill="#e8803a" opacity="0.9"/>
<rect x="306.83" y="295.60" width="1.2" height="1.0" fill="#e8803a" opacity="0.9"/>
<rect x="305.44" y="296.80" width="1.2" height="1.0" fill="#e8803a" opacity="0.9"/>
<rect x="305.38" y="298.00" width="1.2" height="1.0" fill="#e8803a" opacity="0.9"/>
<rect x="307.21" y="299.20" width="1.2" height="1.0" fill="#e8803a" opacity="0.9"/>
<rect x="305.95" y="300.40" width="1.2" height="1.0" fill="#e8803a" opacity="0.9"/>
<rect x="306.83" y="301.60" width="1.2" height="1.0" fill="#e8803a" opacity="0.9"/>
<rect x="305.96" y="302.80" width="1.2" height="1.0" fill="#e8803a" opacity="0.9"/>
<rect x="306.35" y="304.00" width="1.2" height="1.0" fill="#e8803a" opacity="0.9"/>
<rect x="305.18" y="305.20" width="1.2" height="1.0" fill="#e8803a" opacity="0.9"/>
<rect x="306.34" y="306.40" width="1.2" height="1.0" fill="#e8803a" opacity="0.9"/>
<rect x="306.90" y="307.60" width="1.2" height="1.0" fill="#e8803a" opacity="0.9"/>
<rect x="306.08" y="308.80" width="1.2" height="1.0" fill="#e8803a" opacity="0.9"/>
<rect x="306.60" y="310.00" width="1.2" height="1.0" fill="#e8803a" opacity="0.9"/>
<rect x="306.43" y="311.20" width="1.2" height="1.0" fill="#e8803a" opacity="0.9"/>
<rect x="304.97" y="312.40" width="1.2" height="1.0" fill="#e8803a" opacity="0.9"/>
<rect x="306.64" y="313.60" width="1.2" height="1.0" fill="#e8803a" opacity="0.9"/>
<rect x="306.24" y="314.80" width="1.2" height="1.0" fill="#e8803a" opacity="0.9"/>
<rect x="305.54" y="316.00" width="1.2" height="1.0" fill="#e8803a" opacity="0.9"/>
<rect x="304.89" y="317.20" width="1.2" height="1.0" fill="#e8803a" opacity="0.9"/>
<rect x="306.90" y="318.40" width="1.2" height="1.0" fill="#e8803a" opacity="0.9"/>
<rect x="305.95" y="319.60" width="1.2" height="1.0" fill="#e8803a" opacity="0.9"/>
<rect x="306.55" y="320.80" width="1.2" height="1.0" fill="#e8803a" opacity="0.9"/>
<rect x="306.93" y="322.00" width="1.2" height="1.0" fill="#e8803a" opacity="0.9"/>
<rect x="306.53" y="323.20" width="1.2" height="1.0" fill="#e8803a" opacity="0.9"/>
<rect x="327.11" y="290.70" width="1.2" height="1.0" fill="#f0b830" opacity="0.9"/>
<rect x="325.85" y="291.80" width="1.2" height="1.0" fill="#f0b830" opacity="0.9"/>
<rect x="326.82" y="292.90" width="1.2" height="1.0" fill="#f0b830" opacity="0.9"/>
<rect x="325.97" y="294.00" width="1.2" height="1.0" fill="#f0b830" opacity="0.9"/>
<rect x="327.15" y="295.10" width="1.2" height="1.0" fill="#f0b830" opacity="0.9"/>
<rect x="327.01" y="296.20" width="1.2" height="1.0" fill="#f0b830" opacity="0.9"/>
<rect x="325.13" y="297.30" width="1.2" height="1.0" fill="#f0b830" opacity="0.9"/>
<rect x="325.23" y="298.40" width="1.2" height="1.0" fill="#f0b830" opacity="0.9"/>
<rect x="325.42" y="299.50" width="1.2" height="1.0" fill="#f0b830" opacity="0.9"/>
<rect x="327.22" y="300.60" width="1.2" height="1.0" fill="#f0b830" opacity="0.9"/>
<rect x="325.95" y="301.70" width="1.2" height="1.0" fill="#f0b830" opacity="0.9"/>
<rect x="326.40" y="302.80" width="1.2" height="1.0" fill="#f0b830" opacity="0.9"/>
<rect x="325.62" y="303.90" width="1.2" height="1.0" fill="#f0b830" opacity="0.9"/>
<rect x="326.12" y="305.00" width="1.2" height="1.0" fill="#f0b830" opacity="0.9"/>
<rect x="325.83" y="306.10" width="1.2" height="1.0" fill="#f0b830" opacity="0.9"/>
<rect x="325.74" y="307.20" width="1.2" height="1.0" fill="#f0b830" opacity="0.9"/>
<rect x="326.30" y="308.30" width="1.2" height="1.0" fill="#f0b830" opacity="0.9"/>
<rect x="326.30" y="309.40" width="1.2" height="1.0" fill="#f0b830" opacity="0.9"/>
<rect x="327.07" y="310.50" width="1.2" height="1.0" fill="#f0b830" opacity="0.9"/>
<rect x="326.54" y="311.60" width="1.2" height="1.0" fill="#f0b830" opacity="0.9"/>
<rect x="327.13" y="312.70" width="1.2" height="1.0" fill="#f0b830" opacity="0.9"/>
<rect x="326.96" y="313.80" width="1.2" height="1.0" fill="#f0b830" opacity="0.9"/>
<rect x="327.28" y="314.90" width="1.2" height="1.0" fill="#f0b830" opacity="0.9"/>
<rect x="326.51" y="316.00" width="1.2" height="1.0" fill="#f0b830" opacity="0.9"/>
<rect x="325.29" y="317.10" width="1.2" height="1.0" fill="#f0b830" opacity="0.9"/>
<rect x="326.97" y="318.20" width="1.2" height="1.0" fill="#f0b830" opacity="0.9"/>
<rect x="327.22" y="319.30" width="1.2" height="1.0" fill="#f0b830" opacity="0.9"/>
<rect x="327.07" y="320.40" width="1.2" height="1.0" fill="#f0b830" opacity="0.9"/>
<rect x="326.27" y="321.50" width="1.2" height="1.0" fill="#f0b830" opacity="0.9"/>
<rect x="326.61" y="322.60" width="1.2" height="1.0" fill="#f0b830" opacity="0.9"/>
<rect x="325.41" y="333.60" width="1.2" height="1.0" fill="#f0b830" opacity="0.9"/>
<rect x="326.90" y="266.50" width="1.2" height="1.0" fill="#f0b830" opacity="0.9"/>
<line x1="306.62" y1="287.7" x2="306.62" y2="299.2" stroke="#f4a878" stroke-width="0.9"/>
<line x1="306.62" y1="313.0" x2="306.62" y2="323.8" stroke="#f4a878" stroke-width="0.9"/>
<rect x="301.57" y="299.2" width="10.1" height="13.80" fill="none" stroke="#f4a878" stroke-width="0.9"/>
<line x1="301.57" y1="306.1" x2="311.67" y2="306.1" stroke="#ea7a30" stroke-width="1.3"/>
<line x1="326.7" y1="291.2" x2="326.7" y2="302.9" stroke="#f4c454" stroke-width="0.9"/>
<line x1="326.7" y1="314.0" x2="326.7" y2="323.8" stroke="#f4c454" stroke-width="0.9"/>
<rect x="321.35" y="302.9" width="10.7" height="11.10" fill="none" stroke="#f4c454" stroke-width="0.9"/>
<line x1="321.35" y1="310.1" x2="332.05" y2="310.1" stroke="#eeb020" stroke-width="1.3"/>
<text transform="translate(399.4,262.2) rotate(-90)" font-size="7.2" text-anchor="middle" fill="#111">5 mm</text>
<rect x="402.0" y="249.0" width="2.1" height="25.0" fill="#000"/>
<defs><clipPath id="bodyclip" clipPathUnits="userSpaceOnUse"><path d="M0,0 C3,0 4.8,0.8 5.4,2.5 C6.5,3.6 8,4.6 9.5,5.3 C12.5,6.8 15.5,8.6 17,10.3 C17.9,11.4 18.1,12.5 18.1,14 C18.4,22 18.4,36 17,45 C13.5,51.5 5,57.7 0,57.7 C-5,57.7 -13.5,51.5 -17,45 C-18.4,36 -18.4,22 -18.1,14 C-18.1,12.5 -17.9,11.4 -17,10.3 C-15.5,8.6 -12.5,6.8 -9.5,5.3 C-8,4.6 -6.5,3.6 -5.4,2.5 C-4.8,0.8 -3,0 0,0 Z"/></clipPath><radialGradient id="shade" cx="0.5" cy="0.45" r="0.62"><stop offset="0.6" stop-color="#000" stop-opacity="0"/><stop offset="1" stop-color="#0a1a05" stop-opacity="0.28"/></radialGradient></defs>
<g transform="translate(434.2,221.8) scale(1.0,1.0)">
<path d="M0,0 C3,0 4.8,0.8 5.4,2.5 C6.5,3.6 8,4.6 9.5,5.3 C12.5,6.8 15.5,8.6 17,10.3 C17.9,11.4 18.1,12.5 18.1,14 C18.4,22 18.4,36 17,45 C13.5,51.5 5,57.7 0,57.7 C-5,57.7 -13.5,51.5 -17,45 C-18.4,36 -18.4,22 -18.1,14 C-18.1,12.5 -17.9,11.4 -17,10.3 C-15.5,8.6 -12.5,6.8 -9.5,5.3 C-8,4.6 -6.5,3.6 -5.4,2.5 C-4.8,0.8 -3,0 0,0 Z" fill="#52913e" stroke="#478536" stroke-width="0.6"/>
<path d="M-4.8,1.6 C-2.5,0.1 2.5,0.1 4.8,1.6 C5.6,3 5.8,4.5 5.5,5.5 C2,6.3 -2,6.3 -5.5,5.5 C-5.8,4.5 -5.6,3 -4.8,1.6 Z" fill="#4a7a3e" opacity="0.8"/>
<path d="M-15,13 C-11,9 -5,7.5 0,9 C5,7.5 11,9 15,13 C12,17.5 6,18.5 0,18 C-6,18.5 -12,17.5 -15,13 Z" fill="#4d786a" opacity="0.35"/>
<ellipse cx="-7.5" cy="12.5" rx="5.5" ry="3.6" fill="#4d786a" opacity="0.55"/><ellipse cx="7.5" cy="12.5" rx="5.5" ry="3.6" fill="#4d786a" opacity="0.55"/>
<circle cx="-16.8" cy="12" r="1.2" fill="#8a5a3a" opacity="0.7"/><circle cx="16.8" cy="12" r="1.2" fill="#8a5a3a" opacity="0.7"/>
<path d="M0,37.5 C3,38 6,40 8.5,42 C12,44 13.5,47 13,50 C11,54 5.5,57 0,57.2 C-5.5,57 -11,54 -13,50 C-13.5,47 -12,44 -8.5,42 C-6,40 -3,38 0,37.5 Z" fill="#414a46"/>
<path d="M-17.2,14.5 L-10.8,13.5 C-9.5,19 -6.5,26 -4,31 C-4,35 -4.4,40 -4.8,43 C-5.1,45 -5.4,46.5 -5.8,48 C-9.5,47.5 -13.5,45 -15.8,40 C-17.3,34 -17.6,22 -17.2,14.5 Z" fill="#a08a78"/>
<path d="M-12.5,37 C-9.5,41 -7.5,44 -5.8,47.8 C-9,47 -12,44.5 -14,40 Z" fill="#86695e" opacity="0.6"/>
<circle cx="-13.5" cy="31" r="1.1" fill="#7a4a3a" opacity="0.5"/>
<path d="M17.2,14.5 L10.8,13.5 C9.5,19 6.5,26 4,31 C4,35 4.4,40 4.8,43 C5.1,45 5.4,46.5 5.8,48 C9.5,47.5 13.5,45 15.8,40 C17.3,34 17.6,22 17.2,14.5 Z" fill="#a08a78"/>
<path d="M12.5,37 C9.5,41 7.5,44 5.8,47.8 C9,47 12,44.5 14,40 Z" fill="#86695e" opacity="0.6"/>
<circle cx="13.5" cy="31" r="1.1" fill="#7a4a3a" opacity="0.5"/>
<g clip-path="url(#bodyclip)"><g transform="translate(0,13) scale(1,1.2) translate(0,-13)">
<path d="M0,12.6 C5,12.5 9,12.8 10.8,13.3 C9.5,19 6.5,26 4,31 C3.5,32.5 2,33 0,33 C-2,33 -3.5,32.5 -4,31 C-6.5,26 -9.5,19 -10.8,13.3 C-9,12.8 -5,12.5 0,12.6 Z" fill="#78ad4a"/>
<ellipse cx="0" cy="34" rx="4.8" ry="4" fill="#b2d262" opacity="0.9"/>
</g></g>
<path d="M0,0 C3,0 4.8,0.8 5.4,2.5 C6.5,3.6 8,4.6 9.5,5.3 C12.5,6.8 15.5,8.6 17,10.3 C17.9,11.4 18.1,12.5 18.1,14 C18.4,22 18.4,36 17,45 C13.5,51.5 5,57.7 0,57.7 C-5,57.7 -13.5,51.5 -17,45 C-18.4,36 -18.4,22 -18.1,14 C-18.1,12.5 -17.9,11.4 -17,10.3 C-15.5,8.6 -12.5,6.8 -9.5,5.3 C-8,4.6 -6.5,3.6 -5.4,2.5 C-4.8,0.8 -3,0 0,0 Z" fill="url(#shade)"/>
</g>
<text x="435.30" y="292.60" font-size="8.8" text-anchor="middle" font-weight="normal" fill="#27b86a" stroke="#27b86a" stroke-width="0.1">Sym A</text>
<g transform="translate(500.6,223.1) scale(1.04,0.97)">
<path d="M0,0 C3,0 4.8,0.8 5.4,2.5 C6.5,3.6 8,4.6 9.5,5.3 C12.5,6.8 15.5,8.6 17,10.3 C17.9,11.4 18.1,12.5 18.1,14 C18.4,22 18.4,36 17,45 C13.5,51.5 5,57.7 0,57.7 C-5,57.7 -13.5,51.5 -17,45 C-18.4,36 -18.4,22 -18.1,14 C-18.1,12.5 -17.9,11.4 -17,10.3 C-15.5,8.6 -12.5,6.8 -9.5,5.3 C-8,4.6 -6.5,3.6 -5.4,2.5 C-4.8,0.8 -3,0 0,0 Z" fill="#52913e" stroke="#478536" stroke-width="0.6"/>
<path d="M-4.8,1.6 C-2.5,0.1 2.5,0.1 4.8,1.6 C5.6,3 5.8,4.5 5.5,5.5 C2,6.3 -2,6.3 -5.5,5.5 C-5.8,4.5 -5.6,3 -4.8,1.6 Z" fill="#4a7a3e" opacity="0.8"/>
<path d="M-15,13 C-11,9 -5,7.5 0,9 C5,7.5 11,9 15,13 C12,17.5 6,18.5 0,18 C-6,18.5 -12,17.5 -15,13 Z" fill="#4d786a" opacity="0.35"/>
<ellipse cx="-7.5" cy="12.5" rx="5.5" ry="3.6" fill="#4d786a" opacity="0.55"/><ellipse cx="7.5" cy="12.5" rx="5.5" ry="3.6" fill="#4d786a" opacity="0.55"/>
<circle cx="-16.8" cy="12" r="1.2" fill="#8a5a3a" opacity="0.7"/><circle cx="16.8" cy="12" r="1.2" fill="#8a5a3a" opacity="0.7"/>
<path d="M0,37.5 C3,38 6,40 8.5,42 C12,44 13.5,47 13,50 C11,54 5.5,57 0,57.2 C-5.5,57 -11,54 -13,50 C-13.5,47 -12,44 -8.5,42 C-6,40 -3,38 0,37.5 Z" fill="#414a46"/>
<path d="M-17.2,14.5 L-10.8,13.5 C-9.5,19 -6.5,26 -4,31 C-4,35 -4.4,40 -4.8,43 C-5.1,45 -5.4,46.5 -5.8,48 C-9.5,47.5 -13.5,45 -15.8,40 C-17.3,34 -17.6,22 -17.2,14.5 Z" fill="#a08a78"/>
<path d="M-12.5,37 C-9.5,41 -7.5,44 -5.8,47.8 C-9,47 -12,44.5 -14,40 Z" fill="#86695e" opacity="0.6"/>
<circle cx="-13.5" cy="31" r="1.1" fill="#7a4a3a" opacity="0.5"/>
<path d="M17.2,14.5 L10.8,13.5 C9.5,19 6.5,26 4,31 C4,35 4.4,40 4.8,43 C5.1,45 5.4,46.5 5.8,48 C9.5,47.5 13.5,45 15.8,40 C17.3,34 17.6,22 17.2,14.5 Z" fill="#a08a78"/>
<path d="M12.5,37 C9.5,41 7.5,44 5.8,47.8 C9,47 12,44.5 14,40 Z" fill="#86695e" opacity="0.6"/>
<circle cx="13.5" cy="31" r="1.1" fill="#7a4a3a" opacity="0.5"/>
<g clip-path="url(#bodyclip)"><g transform="translate(0,13) scale(1,1.0) translate(0,-13)">
<path d="M0,12.6 C5,12.5 9,12.8 10.8,13.3 C9.5,19 6.5,26 4,31 C3.5,32.5 2,33 0,33 C-2,33 -3.5,32.5 -4,31 C-6.5,26 -9.5,19 -10.8,13.3 C-9,12.8 -5,12.5 0,12.6 Z" fill="#78ad4a"/>
<ellipse cx="0" cy="34" rx="4.8" ry="4" fill="#b2d262" opacity="0.9"/>
</g></g>
<path d="M0,0 C3,0 4.8,0.8 5.4,2.5 C6.5,3.6 8,4.6 9.5,5.3 C12.5,6.8 15.5,8.6 17,10.3 C17.9,11.4 18.1,12.5 18.1,14 C18.4,22 18.4,36 17,45 C13.5,51.5 5,57.7 0,57.7 C-5,57.7 -13.5,51.5 -17,45 C-18.4,36 -18.4,22 -18.1,14 C-18.1,12.5 -17.9,11.4 -17,10.3 C-15.5,8.6 -12.5,6.8 -9.5,5.3 C-8,4.6 -6.5,3.6 -5.4,2.5 C-4.8,0.8 -3,0 0,0 Z" fill="url(#shade)"/>
</g>
<text x="501.40" y="292.60" font-size="8.8" text-anchor="middle" font-weight="normal" fill="#27b86a" stroke="#27b86a" stroke-width="0.1">&#916;<tspan font-style="italic">cyaA</tspan></text>
<g transform="translate(566.1,224.3) scale(1.02,0.953)">
<path d="M0,0 C3,0 4.8,0.8 5.4,2.5 C6.5,3.6 8,4.6 9.5,5.3 C12.5,6.8 15.5,8.6 17,10.3 C17.9,11.4 18.1,12.5 18.1,14 C18.4,22 18.4,36 17,45 C13.5,51.5 5,57.7 0,57.7 C-5,57.7 -13.5,51.5 -17,45 C-18.4,36 -18.4,22 -18.1,14 C-18.1,12.5 -17.9,11.4 -17,10.3 C-15.5,8.6 -12.5,6.8 -9.5,5.3 C-8,4.6 -6.5,3.6 -5.4,2.5 C-4.8,0.8 -3,0 0,0 Z" fill="#52913e" stroke="#478536" stroke-width="0.6"/>
<path d="M-4.8,1.6 C-2.5,0.1 2.5,0.1 4.8,1.6 C5.6,3 5.8,4.5 5.5,5.5 C2,6.3 -2,6.3 -5.5,5.5 C-5.8,4.5 -5.6,3 -4.8,1.6 Z" fill="#4a7a3e" opacity="0.8"/>
<path d="M-15,13 C-11,9 -5,7.5 0,9 C5,7.5 11,9 15,13 C12,17.5 6,18.5 0,18 C-6,18.5 -12,17.5 -15,13 Z" fill="#4d786a" opacity="0.35"/>
<ellipse cx="-7.5" cy="12.5" rx="5.5" ry="3.6" fill="#4d786a" opacity="0.55"/><ellipse cx="7.5" cy="12.5" rx="5.5" ry="3.6" fill="#4d786a" opacity="0.55"/>
<circle cx="-16.8" cy="12" r="1.2" fill="#8a5a3a" opacity="0.7"/><circle cx="16.8" cy="12" r="1.2" fill="#8a5a3a" opacity="0.7"/>
<path d="M0,37.5 C3,38 6,40 8.5,42 C12,44 13.5,47 13,50 C11,54 5.5,57 0,57.2 C-5.5,57 -11,54 -13,50 C-13.5,47 -12,44 -8.5,42 C-6,40 -3,38 0,37.5 Z" fill="#414a46"/>
<path d="M-17.2,14.5 L-10.8,13.5 C-9.5,19 -6.5,26 -4,31 C-4,35 -4.4,40 -4.8,43 C-5.1,45 -5.4,46.5 -5.8,48 C-9.5,47.5 -13.5,45 -15.8,40 C-17.3,34 -17.6,22 -17.2,14.5 Z" fill="#a08a78"/>
<path d="M-12.5,37 C-9.5,41 -7.5,44 -5.8,47.8 C-9,47 -12,44.5 -14,40 Z" fill="#86695e" opacity="0.6"/>
<circle cx="-13.5" cy="31" r="1.1" fill="#7a4a3a" opacity="0.5"/>
<path d="M17.2,14.5 L10.8,13.5 C9.5,19 6.5,26 4,31 C4,35 4.4,40 4.8,43 C5.1,45 5.4,46.5 5.8,48 C9.5,47.5 13.5,45 15.8,40 C17.3,34 17.6,22 17.2,14.5 Z" fill="#a08a78"/>
<path d="M12.5,37 C9.5,41 7.5,44 5.8,47.8 C9,47 12,44.5 14,40 Z" fill="#86695e" opacity="0.6"/>
<circle cx="13.5" cy="31" r="1.1" fill="#7a4a3a" opacity="0.5"/>
<g clip-path="url(#bodyclip)"><g transform="translate(0,13) scale(1,1.07) translate(0,-13)">
<path d="M0,12.6 C5,12.5 9,12.8 10.8,13.3 C9.5,19 6.5,26 4,31 C3.5,32.5 2,33 0,33 C-2,33 -3.5,32.5 -4,31 C-6.5,26 -9.5,19 -10.8,13.3 C-9,12.8 -5,12.5 0,12.6 Z" fill="#78ad4a"/>
<ellipse cx="0" cy="34" rx="4.8" ry="4" fill="#b2d262" opacity="0.9"/>
</g></g>
<path d="M0,0 C3,0 4.8,0.8 5.4,2.5 C6.5,3.6 8,4.6 9.5,5.3 C12.5,6.8 15.5,8.6 17,10.3 C17.9,11.4 18.1,12.5 18.1,14 C18.4,22 18.4,36 17,45 C13.5,51.5 5,57.7 0,57.7 C-5,57.7 -13.5,51.5 -17,45 C-18.4,36 -18.4,22 -18.1,14 C-18.1,12.5 -17.9,11.4 -17,10.3 C-15.5,8.6 -12.5,6.8 -9.5,5.3 C-8,4.6 -6.5,3.6 -5.4,2.5 C-4.8,0.8 -3,0 0,0 Z" fill="url(#shade)"/>
</g>
<text x="567.60" y="292.60" font-size="8.8" text-anchor="middle" font-weight="normal" fill="#27b86a" stroke="#27b86a" stroke-width="0.1">&#916;<tspan font-style="italic">crp</tspan></text>
<g transform="translate(435.7,308.4) scale(1.017,0.951)">
<path d="M0,0 C3,0 4.8,0.8 5.4,2.5 C6.5,3.6 8,4.6 9.5,5.3 C12.5,6.8 15.5,8.6 17,10.3 C17.9,11.4 18.1,12.5 18.1,14 C18.4,22 18.4,36 17,45 C13.5,51.5 5,57.7 0,57.7 C-5,57.7 -13.5,51.5 -17,45 C-18.4,36 -18.4,22 -18.1,14 C-18.1,12.5 -17.9,11.4 -17,10.3 C-15.5,8.6 -12.5,6.8 -9.5,5.3 C-8,4.6 -6.5,3.6 -5.4,2.5 C-4.8,0.8 -3,0 0,0 Z" fill="#52913e" stroke="#478536" stroke-width="0.6"/>
<path d="M-4.8,1.6 C-2.5,0.1 2.5,0.1 4.8,1.6 C5.6,3 5.8,4.5 5.5,5.5 C2,6.3 -2,6.3 -5.5,5.5 C-5.8,4.5 -5.6,3 -4.8,1.6 Z" fill="#4a7a3e" opacity="0.8"/>
<path d="M-15,13 C-11,9 -5,7.5 0,9 C5,7.5 11,9 15,13 C12,17.5 6,18.5 0,18 C-6,18.5 -12,17.5 -15,13 Z" fill="#4d786a" opacity="0.35"/>
<ellipse cx="-7.5" cy="12.5" rx="5.5" ry="3.6" fill="#4d786a" opacity="0.55"/><ellipse cx="7.5" cy="12.5" rx="5.5" ry="3.6" fill="#4d786a" opacity="0.55"/>
<circle cx="-16.8" cy="12" r="1.2" fill="#8a5a3a" opacity="0.7"/><circle cx="16.8" cy="12" r="1.2" fill="#8a5a3a" opacity="0.7"/>
<path d="M0,37.5 C3,38 6,40 8.5,42 C12,44 13.5,47 13,50 C11,54 5.5,57 0,57.2 C-5.5,57 -11,54 -13,50 C-13.5,47 -12,44 -8.5,42 C-6,40 -3,38 0,37.5 Z" fill="#414a46"/>
<path d="M-17.2,14.5 L-10.8,13.5 C-9.5,19 -6.5,26 -4,31 C-4,35 -4.4,40 -4.8,43 C-5.1,45 -5.4,46.5 -5.8,48 C-9.5,47.5 -13.5,45 -15.8,40 C-17.3,34 -17.6,22 -17.2,14.5 Z" fill="#a08a78"/>
<path d="M-12.5,37 C-9.5,41 -7.5,44 -5.8,47.8 C-9,47 -12,44.5 -14,40 Z" fill="#86695e" opacity="0.6"/>
<circle cx="-13.5" cy="31" r="1.1" fill="#7a4a3a" opacity="0.5"/>
<path d="M17.2,14.5 L10.8,13.5 C9.5,19 6.5,26 4,31 C4,35 4.4,40 4.8,43 C5.1,45 5.4,46.5 5.8,48 C9.5,47.5 13.5,45 15.8,40 C17.3,34 17.6,22 17.2,14.5 Z" fill="#a08a78"/>
<path d="M12.5,37 C9.5,41 7.5,44 5.8,47.8 C9,47 12,44.5 14,40 Z" fill="#86695e" opacity="0.6"/>
<circle cx="13.5" cy="31" r="1.1" fill="#7a4a3a" opacity="0.5"/>
<g clip-path="url(#bodyclip)"><g transform="translate(0,13) scale(1,1.0) translate(0,-13)">
<path d="M0,12.6 C5,12.5 9,12.8 10.8,13.3 C9.5,19 6.5,26 4,31 C3.5,32.5 2,33 0,33 C-2,33 -3.5,32.5 -4,31 C-6.5,26 -9.5,19 -10.8,13.3 C-9,12.8 -5,12.5 0,12.6 Z" fill="#78ad4a"/>
<ellipse cx="0" cy="34" rx="4.8" ry="4" fill="#b2d262" opacity="0.9"/>
</g></g>
<path d="M0,0 C3,0 4.8,0.8 5.4,2.5 C6.5,3.6 8,4.6 9.5,5.3 C12.5,6.8 15.5,8.6 17,10.3 C17.9,11.4 18.1,12.5 18.1,14 C18.4,22 18.4,36 17,45 C13.5,51.5 5,57.7 0,57.7 C-5,57.7 -13.5,51.5 -17,45 C-18.4,36 -18.4,22 -18.1,14 C-18.1,12.5 -17.9,11.4 -17,10.3 C-15.5,8.6 -12.5,6.8 -9.5,5.3 C-8,4.6 -6.5,3.6 -5.4,2.5 C-4.8,0.8 -3,0 0,0 Z" fill="url(#shade)"/>
</g>
<text x="435.70" y="373.30" font-size="8.8" text-anchor="middle" font-weight="normal" fill="#27b86a" stroke="#27b86a" stroke-width="0.1">&#916;<tspan font-style="italic">tnaA</tspan></text>
<g transform="translate(502.0,308.4) scale(0.975,0.925)">
<path d="M0,0 C3,0 4.8,0.8 5.4,2.5 C6.5,3.6 8,4.6 9.5,5.3 C12.5,6.8 15.5,8.6 17,10.3 C17.9,11.4 18.1,12.5 18.1,14 C18.4,22 18.4,36 17,45 C13.5,51.5 5,57.7 0,57.7 C-5,57.7 -13.5,51.5 -17,45 C-18.4,36 -18.4,22 -18.1,14 C-18.1,12.5 -17.9,11.4 -17,10.3 C-15.5,8.6 -12.5,6.8 -9.5,5.3 C-8,4.6 -6.5,3.6 -5.4,2.5 C-4.8,0.8 -3,0 0,0 Z" fill="#76914a" stroke="#6a8640" stroke-width="0.6"/>
<path d="M-4.8,1.6 C-2.5,0.1 2.5,0.1 4.8,1.6 C5.6,3 5.8,4.5 5.5,5.5 C2,6.3 -2,6.3 -5.5,5.5 C-5.8,4.5 -5.6,3 -4.8,1.6 Z" fill="#6a7a44" opacity="0.8"/>
<path d="M-15,13 C-11,9 -5,7.5 0,9 C5,7.5 11,9 15,13 C12,17.5 6,18.5 0,18 C-6,18.5 -12,17.5 -15,13 Z" fill="#6d7d60" opacity="0.35"/>
<ellipse cx="-7.5" cy="12.5" rx="5.5" ry="3.6" fill="#6d7d60" opacity="0.55"/><ellipse cx="7.5" cy="12.5" rx="5.5" ry="3.6" fill="#6d7d60" opacity="0.55"/>
<circle cx="-16.8" cy="12" r="1.2" fill="#8a5a3a" opacity="0.7"/><circle cx="16.8" cy="12" r="1.2" fill="#8a5a3a" opacity="0.7"/>
<path d="M0,37.5 C3,38 6,40 8.5,42 C12,44 13.5,47 13,50 C11,54 5.5,57 0,57.2 C-5.5,57 -11,54 -13,50 C-13.5,47 -12,44 -8.5,42 C-6,40 -3,38 0,37.5 Z" fill="#424640"/>
<path d="M-17.2,14.5 L-10.8,13.5 C-9.5,19 -6.5,26 -4,31 C-4,35 -4.4,40 -4.8,43 C-5.1,45 -5.4,46.5 -5.8,48 C-9.5,47.5 -13.5,45 -15.8,40 C-17.3,34 -17.6,22 -17.2,14.5 Z" fill="#a89080"/>
<path d="M-12.5,37 C-9.5,41 -7.5,44 -5.8,47.8 C-9,47 -12,44.5 -14,40 Z" fill="#8c7066" opacity="0.6"/>
<circle cx="-13.5" cy="31" r="1.1" fill="#7a4a3a" opacity="0.5"/>
<path d="M17.2,14.5 L10.8,13.5 C9.5,19 6.5,26 4,31 C4,35 4.4,40 4.8,43 C5.1,45 5.4,46.5 5.8,48 C9.5,47.5 13.5,45 15.8,40 C17.3,34 17.6,22 17.2,14.5 Z" fill="#a89080"/>
<path d="M12.5,37 C9.5,41 7.5,44 5.8,47.8 C9,47 12,44.5 14,40 Z" fill="#8c7066" opacity="0.6"/>
<circle cx="13.5" cy="31" r="1.1" fill="#7a4a3a" opacity="0.5"/>
<g clip-path="url(#bodyclip)"><g transform="translate(0,13) scale(1,1.0) translate(0,-13)">
<path d="M0,12.6 C5,12.5 9,12.8 10.8,13.3 C9.5,19 6.5,26 4,31 C3.5,32.5 2,33 0,33 C-2,33 -3.5,32.5 -4,31 C-6.5,26 -9.5,19 -10.8,13.3 C-9,12.8 -5,12.5 0,12.6 Z" fill="#a8b048"/>
<ellipse cx="0" cy="34" rx="4.8" ry="4" fill="#e2cc44" opacity="0.9"/>
</g></g>
<path d="M0,0 C3,0 4.8,0.8 5.4,2.5 C6.5,3.6 8,4.6 9.5,5.3 C12.5,6.8 15.5,8.6 17,10.3 C17.9,11.4 18.1,12.5 18.1,14 C18.4,22 18.4,36 17,45 C13.5,51.5 5,57.7 0,57.7 C-5,57.7 -13.5,51.5 -17,45 C-18.4,36 -18.4,22 -18.1,14 C-18.1,12.5 -17.9,11.4 -17,10.3 C-15.5,8.6 -12.5,6.8 -9.5,5.3 C-8,4.6 -6.5,3.6 -5.4,2.5 C-4.8,0.8 -3,0 0,0 Z" fill="url(#shade)"/>
</g>
<text x="502.00" y="373.30" font-size="8.8" text-anchor="middle" font-weight="normal" fill="#e8a21a" stroke="#e8a21a" stroke-width="0.1">&#916;<tspan font-style="italic">tnaB</tspan></text>
<g transform="translate(567.2,308.4) scale(0.99,0.925)">
<path d="M0,0 C3,0 4.8,0.8 5.4,2.5 C6.5,3.6 8,4.6 9.5,5.3 C12.5,6.8 15.5,8.6 17,10.3 C17.9,11.4 18.1,12.5 18.1,14 C18.4,22 18.4,36 17,45 C13.5,51.5 5,57.7 0,57.7 C-5,57.7 -13.5,51.5 -17,45 C-18.4,36 -18.4,22 -18.1,14 C-18.1,12.5 -17.9,11.4 -17,10.3 C-15.5,8.6 -12.5,6.8 -9.5,5.3 C-8,4.6 -6.5,3.6 -5.4,2.5 C-4.8,0.8 -3,0 0,0 Z" fill="#76914a" stroke="#6a8640" stroke-width="0.6"/>
<path d="M-4.8,1.6 C-2.5,0.1 2.5,0.1 4.8,1.6 C5.6,3 5.8,4.5 5.5,5.5 C2,6.3 -2,6.3 -5.5,5.5 C-5.8,4.5 -5.6,3 -4.8,1.6 Z" fill="#6a7a44" opacity="0.8"/>
<path d="M-15,13 C-11,9 -5,7.5 0,9 C5,7.5 11,9 15,13 C12,17.5 6,18.5 0,18 C-6,18.5 -12,17.5 -15,13 Z" fill="#6d7d60" opacity="0.35"/>
<ellipse cx="-7.5" cy="12.5" rx="5.5" ry="3.6" fill="#6d7d60" opacity="0.55"/><ellipse cx="7.5" cy="12.5" rx="5.5" ry="3.6" fill="#6d7d60" opacity="0.55"/>
<circle cx="-16.8" cy="12" r="1.2" fill="#8a5a3a" opacity="0.7"/><circle cx="16.8" cy="12" r="1.2" fill="#8a5a3a" opacity="0.7"/>
<path d="M0,37.5 C3,38 6,40 8.5,42 C12,44 13.5,47 13,50 C11,54 5.5,57 0,57.2 C-5.5,57 -11,54 -13,50 C-13.5,47 -12,44 -8.5,42 C-6,40 -3,38 0,37.5 Z" fill="#424640"/>
<path d="M-17.2,14.5 L-10.8,13.5 C-9.5,19 -6.5,26 -4,31 C-4,35 -4.4,40 -4.8,43 C-5.1,45 -5.4,46.5 -5.8,48 C-9.5,47.5 -13.5,45 -15.8,40 C-17.3,34 -17.6,22 -17.2,14.5 Z" fill="#a89080"/>
<path d="M-12.5,37 C-9.5,41 -7.5,44 -5.8,47.8 C-9,47 -12,44.5 -14,40 Z" fill="#8c7066" opacity="0.6"/>
<circle cx="-13.5" cy="31" r="1.1" fill="#7a4a3a" opacity="0.5"/>
<path d="M17.2,14.5 L10.8,13.5 C9.5,19 6.5,26 4,31 C4,35 4.4,40 4.8,43 C5.1,45 5.4,46.5 5.8,48 C9.5,47.5 13.5,45 15.8,40 C17.3,34 17.6,22 17.2,14.5 Z" fill="#a89080"/>
<path d="M12.5,37 C9.5,41 7.5,44 5.8,47.8 C9,47 12,44.5 14,40 Z" fill="#8c7066" opacity="0.6"/>
<circle cx="13.5" cy="31" r="1.1" fill="#7a4a3a" opacity="0.5"/>
<g clip-path="url(#bodyclip)"><g transform="translate(0,13) scale(1,1.1) translate(0,-13)">
<path d="M0,12.6 C5,12.5 9,12.8 10.8,13.3 C9.5,19 6.5,26 4,31 C3.5,32.5 2,33 0,33 C-2,33 -3.5,32.5 -4,31 C-6.5,26 -9.5,19 -10.8,13.3 C-9,12.8 -5,12.5 0,12.6 Z" fill="#a8b048"/>
<ellipse cx="0" cy="34" rx="4.8" ry="4" fill="#e2cc44" opacity="0.9"/>
</g></g>
<path d="M0,0 C3,0 4.8,0.8 5.4,2.5 C6.5,3.6 8,4.6 9.5,5.3 C12.5,6.8 15.5,8.6 17,10.3 C17.9,11.4 18.1,12.5 18.1,14 C18.4,22 18.4,36 17,45 C13.5,51.5 5,57.7 0,57.7 C-5,57.7 -13.5,51.5 -17,45 C-18.4,36 -18.4,22 -18.1,14 C-18.1,12.5 -17.9,11.4 -17,10.3 C-15.5,8.6 -12.5,6.8 -9.5,5.3 C-8,4.6 -6.5,3.6 -5.4,2.5 C-4.8,0.8 -3,0 0,0 Z" fill="url(#shade)"/>
</g>
<text x="567.00" y="373.30" font-size="8.8" text-anchor="middle" font-weight="normal" fill="#e8a21a" stroke="#e8a21a" stroke-width="0.1">&#916;<tspan font-style="italic">intS</tspan></text>
<path d="M398.6,217.4 Q413.00,216.50 429.4,222.8" fill="none" stroke="#3a3a36" stroke-width="1.05" stroke-linecap="round"/>
<path d="M438.4,222.8 Q452.35,215.95 466.9,216.5" fill="none" stroke="#3a3a36" stroke-width="1.05" stroke-linecap="round"/>
<path d="M471.3,214.4 Q484.10,215.40 494.5,223.6" fill="none" stroke="#3a3a36" stroke-width="1.05" stroke-linecap="round"/>
<path d="M505.5,223.6 Q516.15,215.70 528.2,215 L533.3,219.5" fill="none" stroke="#3a3a36" stroke-width="1.05" stroke-linecap="round"/>
<path d="M545.3,206.6 Q550.35,213.45 560,224.5" fill="none" stroke="#3a3a36" stroke-width="1.05" stroke-linecap="round"/>
<path d="M570,224.5 Q578.45,214.25 591.1,209" fill="none" stroke="#3a3a36" stroke-width="1.05" stroke-linecap="round"/>
<path d="M406.6,294.6 Q417.70,297.00 430,309" fill="none" stroke="#3a3a36" stroke-width="1.05" stroke-linecap="round"/>
<path d="M439,309 Q450.85,301.20 468.9,300.6" fill="none" stroke="#3a3a36" stroke-width="1.05" stroke-linecap="round"/>
<path d="M473.4,299.4 Q485.25,300.60 497.3,309" fill="none" stroke="#3a3a36" stroke-width="1.05" stroke-linecap="round"/>
<path d="M504.8,309 Q516.55,299.70 529.3,297.6" fill="none" stroke="#3a3a36" stroke-width="1.05" stroke-linecap="round"/>
<path d="M538.3,295.5 Q546.60,295.55 564.5,309.4" fill="none" stroke="#3a3a36" stroke-width="1.05" stroke-linecap="round"/>
<path d="M572.2,309.2 Q583.30,298.85 597.6,295.5" fill="none" stroke="#3a3a36" stroke-width="1.05" stroke-linecap="round"/>
</svg></body></html>
